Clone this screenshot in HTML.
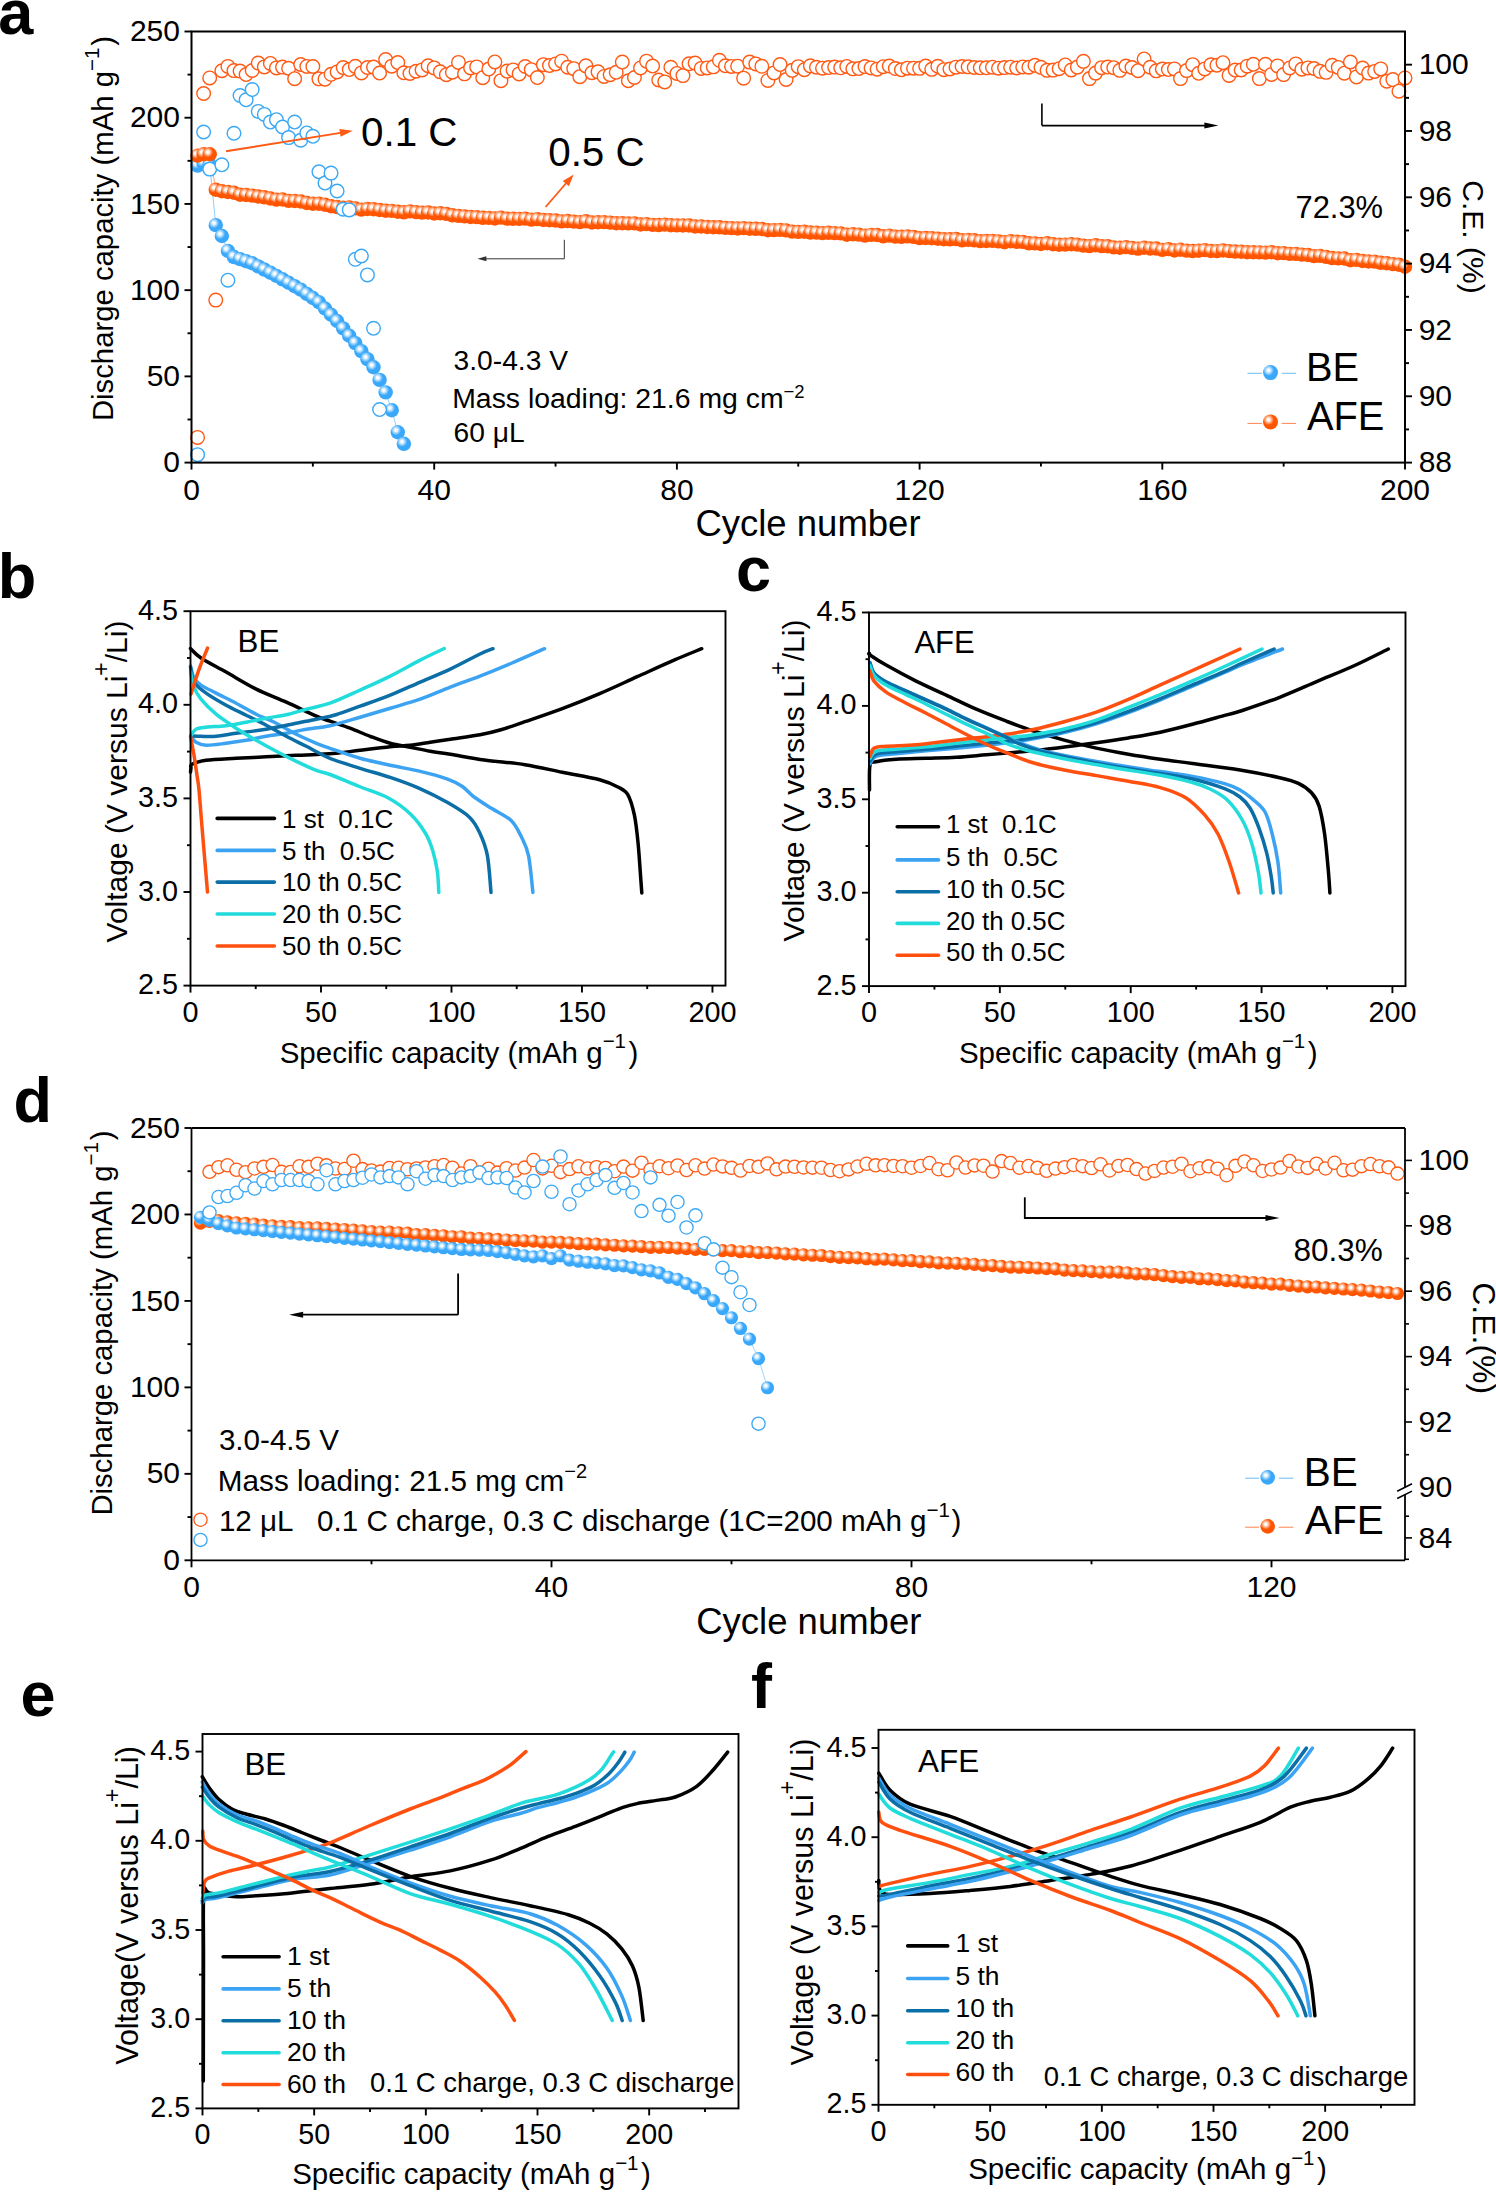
<!DOCTYPE html>
<html><head><meta charset="utf-8"><title>figure</title>
<style>html,body{margin:0;padding:0;background:#fff;}svg{display:block;}</style>
</head><body>
<svg width="1496" height="2192" viewBox="0 0 1496 2192" font-family='"Liberation Sans", sans-serif' style="font-variant-ligatures:none">
<defs>
<radialGradient id="gB" cx="0.37" cy="0.35" r="0.36">
<stop offset="0" stop-color="#ffffff"/><stop offset="0.25" stop-color="#f4faff"/><stop offset="1" stop-color="#3aa8fa"/></radialGradient>
<radialGradient id="gO" cx="0.37" cy="0.35" r="0.36">
<stop offset="0" stop-color="#ffffff"/><stop offset="0.25" stop-color="#fff6f0"/><stop offset="1" stop-color="#ff5500"/></radialGradient>
</defs>
<rect x="0" y="0" width="1496" height="2192" fill="#fff"/>
<text x="-1.8" y="34.2" font-size="63" text-anchor="start" font-weight="bold" fill="#000">a</text>
<polyline points="197.57,165.66 203.63,163.42 209.7,164.28 215.77,225.15 221.84,236.01 227.91,250.84 233.97,257.05 240.04,259.12 246.11,261.19 252.18,263.26 258.24,266.41 264.31,269.55 270.38,272.7 276.44,275.85 282.51,279.3 288.58,282.75 294.65,286.19 300.72,289.64 306.78,293.84 312.85,298.03 318.92,302.23 324.99,308.5 331.05,314.76 337.12,321.03 343.19,328.38 349.25,335.74 355.32,343.1 361.39,351.15 367.46,359.19 373.52,367.24 379.59,379.83 385.66,392.42 391.73,410.18 397.79,432.25 403.86,443.8" fill="none" stroke="#3aa8f5" stroke-width="0.8" opacity="0.7"/>
<polyline points="197.57,155.66 203.63,154.28 209.7,154.28 215.77,189.68 221.84,191.18 227.91,191.95 233.97,192.75 240.04,194.74 246.11,194.95 252.18,195.61 258.24,196.53 264.31,197.32 270.38,198.43 276.44,199.59 282.51,199.48 288.58,200.85 294.65,200.95 300.72,201.45 306.78,202.99 312.85,203.72 318.92,203.71 324.99,204.76 331.05,206.26 337.12,207.06 343.19,207.77 349.25,207.47 355.32,208.35 361.39,209.61 367.46,209.03 373.52,209.18 379.59,209.98 385.66,210.76 391.73,210.84 397.79,211.78 403.86,212.3 409.93,211.33 416,212.13 422.06,212.66 428.13,212.46 434.2,213.5 440.27,213.26 446.34,213.89 452.4,215.32 458.47,215.84 464.54,216.35 470.61,217 476.67,217.1 482.74,217.8 488.81,217.83 494.88,218.48 500.94,217.66 507.01,218.67 513.08,218.78 519.14,218.86 525.21,218.67 531.28,219.58 537.35,219.15 543.41,219.97 549.48,220.18 555.55,220.45 561.62,221.39 567.68,221.06 573.75,221.67 579.82,222.17 585.89,221.32 591.95,222.44 598.02,222.27 604.09,222.17 610.16,222.66 616.23,223.23 622.29,223.21 628.36,223.41 634.43,223.35 640.5,224.53 646.56,224.16 652.63,224.84 658.7,225.05 664.76,224.62 670.83,225.23 676.9,225.41 682.97,225.43 689.04,225.52 695.1,226.46 701.17,226.52 707.24,226.96 713.3,227.25 719.37,227.29 725.44,227.92 731.51,228.1 737.58,228.47 743.64,228.13 749.71,228.76 755.78,228.81 761.85,229.01 767.91,230.25 773.98,230.13 780.05,229.89 786.12,230.33 792.18,231.59 798.25,231.91 804.32,231.76 810.38,232.57 816.45,232.63 822.52,233.15 828.59,232.79 834.65,233.09 840.72,233.4 846.79,234.71 852.86,234.22 858.92,234.58 864.99,235.58 871.06,234.84 877.13,235.01 883.2,236.32 889.26,235.6 895.33,236.65 901.4,236.81 907.47,236.4 913.53,236.9 919.6,238.11 925.67,238.03 931.74,238.19 937.8,238.72 943.87,239.2 949.94,239.32 956,239.05 962.07,240.3 968.14,239.85 974.21,240.29 980.27,241.16 986.34,241.01 992.41,240.89 998.48,241.33 1004.54,242.23 1010.61,241.25 1016.68,241.8 1022.75,241.84 1028.82,243.32 1034.88,243.38 1040.95,243.98 1047.02,243.24 1053.09,244.23 1059.15,244.71 1065.22,244.59 1071.29,244.2 1077.36,244.61 1083.42,245.67 1089.49,246.1 1095.56,245.32 1101.62,246.09 1107.69,246.22 1113.76,247.37 1119.83,247.73 1125.89,247.17 1131.96,247.84 1138.03,248.64 1144.1,247.76 1150.16,248.49 1156.23,248.57 1162.3,249.87 1168.37,249.11 1174.43,250.51 1180.5,249.72 1186.57,250.6 1192.64,251.07 1198.7,250.7 1204.77,250.12 1210.84,250.96 1216.91,251.08 1222.97,250.46 1229.04,251.12 1235.11,251.57 1241.18,251.76 1247.24,252.18 1253.31,252.24 1259.38,252.35 1265.45,252.62 1271.52,252.26 1277.58,253.18 1283.65,253.15 1289.72,253.86 1295.79,253.89 1301.85,254.61 1307.92,255.03 1313.99,256.09 1320.06,255.84 1326.12,256.83 1332.19,258.07 1338.26,258.42 1344.33,258.52 1350.39,260.26 1356.46,259.86 1362.53,260.99 1368.6,261.49 1374.66,261.62 1380.73,262.82 1386.8,263.25 1392.87,264.09 1398.93,264.78 1405,266.75" fill="none" stroke="#ff5a14" stroke-width="0.8" opacity="0.7"/>
<circle cx="197.57" cy="165.66" r="7.2" fill="url(#gB)"/>
<circle cx="203.63" cy="163.42" r="7.2" fill="url(#gB)"/>
<circle cx="209.7" cy="164.28" r="7.2" fill="url(#gB)"/>
<circle cx="215.77" cy="225.15" r="7.2" fill="url(#gB)"/>
<circle cx="221.84" cy="236.01" r="7.2" fill="url(#gB)"/>
<circle cx="227.91" cy="250.84" r="7.2" fill="url(#gB)"/>
<circle cx="233.97" cy="257.05" r="7.2" fill="url(#gB)"/>
<circle cx="240.04" cy="259.12" r="7.2" fill="url(#gB)"/>
<circle cx="246.11" cy="261.19" r="7.2" fill="url(#gB)"/>
<circle cx="252.18" cy="263.26" r="7.2" fill="url(#gB)"/>
<circle cx="258.24" cy="266.41" r="7.2" fill="url(#gB)"/>
<circle cx="264.31" cy="269.55" r="7.2" fill="url(#gB)"/>
<circle cx="270.38" cy="272.7" r="7.2" fill="url(#gB)"/>
<circle cx="276.44" cy="275.85" r="7.2" fill="url(#gB)"/>
<circle cx="282.51" cy="279.3" r="7.2" fill="url(#gB)"/>
<circle cx="288.58" cy="282.75" r="7.2" fill="url(#gB)"/>
<circle cx="294.65" cy="286.19" r="7.2" fill="url(#gB)"/>
<circle cx="300.72" cy="289.64" r="7.2" fill="url(#gB)"/>
<circle cx="306.78" cy="293.84" r="7.2" fill="url(#gB)"/>
<circle cx="312.85" cy="298.03" r="7.2" fill="url(#gB)"/>
<circle cx="318.92" cy="302.23" r="7.2" fill="url(#gB)"/>
<circle cx="324.99" cy="308.5" r="7.2" fill="url(#gB)"/>
<circle cx="331.05" cy="314.76" r="7.2" fill="url(#gB)"/>
<circle cx="337.12" cy="321.03" r="7.2" fill="url(#gB)"/>
<circle cx="343.19" cy="328.38" r="7.2" fill="url(#gB)"/>
<circle cx="349.25" cy="335.74" r="7.2" fill="url(#gB)"/>
<circle cx="355.32" cy="343.1" r="7.2" fill="url(#gB)"/>
<circle cx="361.39" cy="351.15" r="7.2" fill="url(#gB)"/>
<circle cx="367.46" cy="359.19" r="7.2" fill="url(#gB)"/>
<circle cx="373.52" cy="367.24" r="7.2" fill="url(#gB)"/>
<circle cx="379.59" cy="379.83" r="7.2" fill="url(#gB)"/>
<circle cx="385.66" cy="392.42" r="7.2" fill="url(#gB)"/>
<circle cx="391.73" cy="410.18" r="7.2" fill="url(#gB)"/>
<circle cx="397.79" cy="432.25" r="7.2" fill="url(#gB)"/>
<circle cx="403.86" cy="443.8" r="7.2" fill="url(#gB)"/>
<circle cx="197.57" cy="155.66" r="7.2" fill="url(#gO)"/>
<circle cx="203.63" cy="154.28" r="7.2" fill="url(#gO)"/>
<circle cx="209.7" cy="154.28" r="7.2" fill="url(#gO)"/>
<circle cx="215.77" cy="189.68" r="7.2" fill="url(#gO)"/>
<circle cx="221.84" cy="191.18" r="7.2" fill="url(#gO)"/>
<circle cx="227.91" cy="191.95" r="7.2" fill="url(#gO)"/>
<circle cx="233.97" cy="192.75" r="7.2" fill="url(#gO)"/>
<circle cx="240.04" cy="194.74" r="7.2" fill="url(#gO)"/>
<circle cx="246.11" cy="194.95" r="7.2" fill="url(#gO)"/>
<circle cx="252.18" cy="195.61" r="7.2" fill="url(#gO)"/>
<circle cx="258.24" cy="196.53" r="7.2" fill="url(#gO)"/>
<circle cx="264.31" cy="197.32" r="7.2" fill="url(#gO)"/>
<circle cx="270.38" cy="198.43" r="7.2" fill="url(#gO)"/>
<circle cx="276.44" cy="199.59" r="7.2" fill="url(#gO)"/>
<circle cx="282.51" cy="199.48" r="7.2" fill="url(#gO)"/>
<circle cx="288.58" cy="200.85" r="7.2" fill="url(#gO)"/>
<circle cx="294.65" cy="200.95" r="7.2" fill="url(#gO)"/>
<circle cx="300.72" cy="201.45" r="7.2" fill="url(#gO)"/>
<circle cx="306.78" cy="202.99" r="7.2" fill="url(#gO)"/>
<circle cx="312.85" cy="203.72" r="7.2" fill="url(#gO)"/>
<circle cx="318.92" cy="203.71" r="7.2" fill="url(#gO)"/>
<circle cx="324.99" cy="204.76" r="7.2" fill="url(#gO)"/>
<circle cx="331.05" cy="206.26" r="7.2" fill="url(#gO)"/>
<circle cx="337.12" cy="207.06" r="7.2" fill="url(#gO)"/>
<circle cx="343.19" cy="207.77" r="7.2" fill="url(#gO)"/>
<circle cx="349.25" cy="207.47" r="7.2" fill="url(#gO)"/>
<circle cx="355.32" cy="208.35" r="7.2" fill="url(#gO)"/>
<circle cx="361.39" cy="209.61" r="7.2" fill="url(#gO)"/>
<circle cx="367.46" cy="209.03" r="7.2" fill="url(#gO)"/>
<circle cx="373.52" cy="209.18" r="7.2" fill="url(#gO)"/>
<circle cx="379.59" cy="209.98" r="7.2" fill="url(#gO)"/>
<circle cx="385.66" cy="210.76" r="7.2" fill="url(#gO)"/>
<circle cx="391.73" cy="210.84" r="7.2" fill="url(#gO)"/>
<circle cx="397.79" cy="211.78" r="7.2" fill="url(#gO)"/>
<circle cx="403.86" cy="212.3" r="7.2" fill="url(#gO)"/>
<circle cx="409.93" cy="211.33" r="7.2" fill="url(#gO)"/>
<circle cx="416" cy="212.13" r="7.2" fill="url(#gO)"/>
<circle cx="422.06" cy="212.66" r="7.2" fill="url(#gO)"/>
<circle cx="428.13" cy="212.46" r="7.2" fill="url(#gO)"/>
<circle cx="434.2" cy="213.5" r="7.2" fill="url(#gO)"/>
<circle cx="440.27" cy="213.26" r="7.2" fill="url(#gO)"/>
<circle cx="446.34" cy="213.89" r="7.2" fill="url(#gO)"/>
<circle cx="452.4" cy="215.32" r="7.2" fill="url(#gO)"/>
<circle cx="458.47" cy="215.84" r="7.2" fill="url(#gO)"/>
<circle cx="464.54" cy="216.35" r="7.2" fill="url(#gO)"/>
<circle cx="470.61" cy="217" r="7.2" fill="url(#gO)"/>
<circle cx="476.67" cy="217.1" r="7.2" fill="url(#gO)"/>
<circle cx="482.74" cy="217.8" r="7.2" fill="url(#gO)"/>
<circle cx="488.81" cy="217.83" r="7.2" fill="url(#gO)"/>
<circle cx="494.88" cy="218.48" r="7.2" fill="url(#gO)"/>
<circle cx="500.94" cy="217.66" r="7.2" fill="url(#gO)"/>
<circle cx="507.01" cy="218.67" r="7.2" fill="url(#gO)"/>
<circle cx="513.08" cy="218.78" r="7.2" fill="url(#gO)"/>
<circle cx="519.14" cy="218.86" r="7.2" fill="url(#gO)"/>
<circle cx="525.21" cy="218.67" r="7.2" fill="url(#gO)"/>
<circle cx="531.28" cy="219.58" r="7.2" fill="url(#gO)"/>
<circle cx="537.35" cy="219.15" r="7.2" fill="url(#gO)"/>
<circle cx="543.41" cy="219.97" r="7.2" fill="url(#gO)"/>
<circle cx="549.48" cy="220.18" r="7.2" fill="url(#gO)"/>
<circle cx="555.55" cy="220.45" r="7.2" fill="url(#gO)"/>
<circle cx="561.62" cy="221.39" r="7.2" fill="url(#gO)"/>
<circle cx="567.68" cy="221.06" r="7.2" fill="url(#gO)"/>
<circle cx="573.75" cy="221.67" r="7.2" fill="url(#gO)"/>
<circle cx="579.82" cy="222.17" r="7.2" fill="url(#gO)"/>
<circle cx="585.89" cy="221.32" r="7.2" fill="url(#gO)"/>
<circle cx="591.95" cy="222.44" r="7.2" fill="url(#gO)"/>
<circle cx="598.02" cy="222.27" r="7.2" fill="url(#gO)"/>
<circle cx="604.09" cy="222.17" r="7.2" fill="url(#gO)"/>
<circle cx="610.16" cy="222.66" r="7.2" fill="url(#gO)"/>
<circle cx="616.23" cy="223.23" r="7.2" fill="url(#gO)"/>
<circle cx="622.29" cy="223.21" r="7.2" fill="url(#gO)"/>
<circle cx="628.36" cy="223.41" r="7.2" fill="url(#gO)"/>
<circle cx="634.43" cy="223.35" r="7.2" fill="url(#gO)"/>
<circle cx="640.5" cy="224.53" r="7.2" fill="url(#gO)"/>
<circle cx="646.56" cy="224.16" r="7.2" fill="url(#gO)"/>
<circle cx="652.63" cy="224.84" r="7.2" fill="url(#gO)"/>
<circle cx="658.7" cy="225.05" r="7.2" fill="url(#gO)"/>
<circle cx="664.76" cy="224.62" r="7.2" fill="url(#gO)"/>
<circle cx="670.83" cy="225.23" r="7.2" fill="url(#gO)"/>
<circle cx="676.9" cy="225.41" r="7.2" fill="url(#gO)"/>
<circle cx="682.97" cy="225.43" r="7.2" fill="url(#gO)"/>
<circle cx="689.04" cy="225.52" r="7.2" fill="url(#gO)"/>
<circle cx="695.1" cy="226.46" r="7.2" fill="url(#gO)"/>
<circle cx="701.17" cy="226.52" r="7.2" fill="url(#gO)"/>
<circle cx="707.24" cy="226.96" r="7.2" fill="url(#gO)"/>
<circle cx="713.3" cy="227.25" r="7.2" fill="url(#gO)"/>
<circle cx="719.37" cy="227.29" r="7.2" fill="url(#gO)"/>
<circle cx="725.44" cy="227.92" r="7.2" fill="url(#gO)"/>
<circle cx="731.51" cy="228.1" r="7.2" fill="url(#gO)"/>
<circle cx="737.58" cy="228.47" r="7.2" fill="url(#gO)"/>
<circle cx="743.64" cy="228.13" r="7.2" fill="url(#gO)"/>
<circle cx="749.71" cy="228.76" r="7.2" fill="url(#gO)"/>
<circle cx="755.78" cy="228.81" r="7.2" fill="url(#gO)"/>
<circle cx="761.85" cy="229.01" r="7.2" fill="url(#gO)"/>
<circle cx="767.91" cy="230.25" r="7.2" fill="url(#gO)"/>
<circle cx="773.98" cy="230.13" r="7.2" fill="url(#gO)"/>
<circle cx="780.05" cy="229.89" r="7.2" fill="url(#gO)"/>
<circle cx="786.12" cy="230.33" r="7.2" fill="url(#gO)"/>
<circle cx="792.18" cy="231.59" r="7.2" fill="url(#gO)"/>
<circle cx="798.25" cy="231.91" r="7.2" fill="url(#gO)"/>
<circle cx="804.32" cy="231.76" r="7.2" fill="url(#gO)"/>
<circle cx="810.38" cy="232.57" r="7.2" fill="url(#gO)"/>
<circle cx="816.45" cy="232.63" r="7.2" fill="url(#gO)"/>
<circle cx="822.52" cy="233.15" r="7.2" fill="url(#gO)"/>
<circle cx="828.59" cy="232.79" r="7.2" fill="url(#gO)"/>
<circle cx="834.65" cy="233.09" r="7.2" fill="url(#gO)"/>
<circle cx="840.72" cy="233.4" r="7.2" fill="url(#gO)"/>
<circle cx="846.79" cy="234.71" r="7.2" fill="url(#gO)"/>
<circle cx="852.86" cy="234.22" r="7.2" fill="url(#gO)"/>
<circle cx="858.92" cy="234.58" r="7.2" fill="url(#gO)"/>
<circle cx="864.99" cy="235.58" r="7.2" fill="url(#gO)"/>
<circle cx="871.06" cy="234.84" r="7.2" fill="url(#gO)"/>
<circle cx="877.13" cy="235.01" r="7.2" fill="url(#gO)"/>
<circle cx="883.2" cy="236.32" r="7.2" fill="url(#gO)"/>
<circle cx="889.26" cy="235.6" r="7.2" fill="url(#gO)"/>
<circle cx="895.33" cy="236.65" r="7.2" fill="url(#gO)"/>
<circle cx="901.4" cy="236.81" r="7.2" fill="url(#gO)"/>
<circle cx="907.47" cy="236.4" r="7.2" fill="url(#gO)"/>
<circle cx="913.53" cy="236.9" r="7.2" fill="url(#gO)"/>
<circle cx="919.6" cy="238.11" r="7.2" fill="url(#gO)"/>
<circle cx="925.67" cy="238.03" r="7.2" fill="url(#gO)"/>
<circle cx="931.74" cy="238.19" r="7.2" fill="url(#gO)"/>
<circle cx="937.8" cy="238.72" r="7.2" fill="url(#gO)"/>
<circle cx="943.87" cy="239.2" r="7.2" fill="url(#gO)"/>
<circle cx="949.94" cy="239.32" r="7.2" fill="url(#gO)"/>
<circle cx="956" cy="239.05" r="7.2" fill="url(#gO)"/>
<circle cx="962.07" cy="240.3" r="7.2" fill="url(#gO)"/>
<circle cx="968.14" cy="239.85" r="7.2" fill="url(#gO)"/>
<circle cx="974.21" cy="240.29" r="7.2" fill="url(#gO)"/>
<circle cx="980.27" cy="241.16" r="7.2" fill="url(#gO)"/>
<circle cx="986.34" cy="241.01" r="7.2" fill="url(#gO)"/>
<circle cx="992.41" cy="240.89" r="7.2" fill="url(#gO)"/>
<circle cx="998.48" cy="241.33" r="7.2" fill="url(#gO)"/>
<circle cx="1004.54" cy="242.23" r="7.2" fill="url(#gO)"/>
<circle cx="1010.61" cy="241.25" r="7.2" fill="url(#gO)"/>
<circle cx="1016.68" cy="241.8" r="7.2" fill="url(#gO)"/>
<circle cx="1022.75" cy="241.84" r="7.2" fill="url(#gO)"/>
<circle cx="1028.82" cy="243.32" r="7.2" fill="url(#gO)"/>
<circle cx="1034.88" cy="243.38" r="7.2" fill="url(#gO)"/>
<circle cx="1040.95" cy="243.98" r="7.2" fill="url(#gO)"/>
<circle cx="1047.02" cy="243.24" r="7.2" fill="url(#gO)"/>
<circle cx="1053.09" cy="244.23" r="7.2" fill="url(#gO)"/>
<circle cx="1059.15" cy="244.71" r="7.2" fill="url(#gO)"/>
<circle cx="1065.22" cy="244.59" r="7.2" fill="url(#gO)"/>
<circle cx="1071.29" cy="244.2" r="7.2" fill="url(#gO)"/>
<circle cx="1077.36" cy="244.61" r="7.2" fill="url(#gO)"/>
<circle cx="1083.42" cy="245.67" r="7.2" fill="url(#gO)"/>
<circle cx="1089.49" cy="246.1" r="7.2" fill="url(#gO)"/>
<circle cx="1095.56" cy="245.32" r="7.2" fill="url(#gO)"/>
<circle cx="1101.62" cy="246.09" r="7.2" fill="url(#gO)"/>
<circle cx="1107.69" cy="246.22" r="7.2" fill="url(#gO)"/>
<circle cx="1113.76" cy="247.37" r="7.2" fill="url(#gO)"/>
<circle cx="1119.83" cy="247.73" r="7.2" fill="url(#gO)"/>
<circle cx="1125.89" cy="247.17" r="7.2" fill="url(#gO)"/>
<circle cx="1131.96" cy="247.84" r="7.2" fill="url(#gO)"/>
<circle cx="1138.03" cy="248.64" r="7.2" fill="url(#gO)"/>
<circle cx="1144.1" cy="247.76" r="7.2" fill="url(#gO)"/>
<circle cx="1150.16" cy="248.49" r="7.2" fill="url(#gO)"/>
<circle cx="1156.23" cy="248.57" r="7.2" fill="url(#gO)"/>
<circle cx="1162.3" cy="249.87" r="7.2" fill="url(#gO)"/>
<circle cx="1168.37" cy="249.11" r="7.2" fill="url(#gO)"/>
<circle cx="1174.43" cy="250.51" r="7.2" fill="url(#gO)"/>
<circle cx="1180.5" cy="249.72" r="7.2" fill="url(#gO)"/>
<circle cx="1186.57" cy="250.6" r="7.2" fill="url(#gO)"/>
<circle cx="1192.64" cy="251.07" r="7.2" fill="url(#gO)"/>
<circle cx="1198.7" cy="250.7" r="7.2" fill="url(#gO)"/>
<circle cx="1204.77" cy="250.12" r="7.2" fill="url(#gO)"/>
<circle cx="1210.84" cy="250.96" r="7.2" fill="url(#gO)"/>
<circle cx="1216.91" cy="251.08" r="7.2" fill="url(#gO)"/>
<circle cx="1222.97" cy="250.46" r="7.2" fill="url(#gO)"/>
<circle cx="1229.04" cy="251.12" r="7.2" fill="url(#gO)"/>
<circle cx="1235.11" cy="251.57" r="7.2" fill="url(#gO)"/>
<circle cx="1241.18" cy="251.76" r="7.2" fill="url(#gO)"/>
<circle cx="1247.24" cy="252.18" r="7.2" fill="url(#gO)"/>
<circle cx="1253.31" cy="252.24" r="7.2" fill="url(#gO)"/>
<circle cx="1259.38" cy="252.35" r="7.2" fill="url(#gO)"/>
<circle cx="1265.45" cy="252.62" r="7.2" fill="url(#gO)"/>
<circle cx="1271.52" cy="252.26" r="7.2" fill="url(#gO)"/>
<circle cx="1277.58" cy="253.18" r="7.2" fill="url(#gO)"/>
<circle cx="1283.65" cy="253.15" r="7.2" fill="url(#gO)"/>
<circle cx="1289.72" cy="253.86" r="7.2" fill="url(#gO)"/>
<circle cx="1295.79" cy="253.89" r="7.2" fill="url(#gO)"/>
<circle cx="1301.85" cy="254.61" r="7.2" fill="url(#gO)"/>
<circle cx="1307.92" cy="255.03" r="7.2" fill="url(#gO)"/>
<circle cx="1313.99" cy="256.09" r="7.2" fill="url(#gO)"/>
<circle cx="1320.06" cy="255.84" r="7.2" fill="url(#gO)"/>
<circle cx="1326.12" cy="256.83" r="7.2" fill="url(#gO)"/>
<circle cx="1332.19" cy="258.07" r="7.2" fill="url(#gO)"/>
<circle cx="1338.26" cy="258.42" r="7.2" fill="url(#gO)"/>
<circle cx="1344.33" cy="258.52" r="7.2" fill="url(#gO)"/>
<circle cx="1350.39" cy="260.26" r="7.2" fill="url(#gO)"/>
<circle cx="1356.46" cy="259.86" r="7.2" fill="url(#gO)"/>
<circle cx="1362.53" cy="260.99" r="7.2" fill="url(#gO)"/>
<circle cx="1368.6" cy="261.49" r="7.2" fill="url(#gO)"/>
<circle cx="1374.66" cy="261.62" r="7.2" fill="url(#gO)"/>
<circle cx="1380.73" cy="262.82" r="7.2" fill="url(#gO)"/>
<circle cx="1386.8" cy="263.25" r="7.2" fill="url(#gO)"/>
<circle cx="1392.87" cy="264.09" r="7.2" fill="url(#gO)"/>
<circle cx="1398.93" cy="264.78" r="7.2" fill="url(#gO)"/>
<circle cx="1405" cy="266.75" r="7.2" fill="url(#gO)"/>
<circle cx="197.57" cy="437.4" r="6.8" fill="#fff" stroke="#ff5a14" stroke-width="1.4"/>
<circle cx="203.63" cy="93.51" r="6.8" fill="#fff" stroke="#ff5a14" stroke-width="1.4"/>
<circle cx="209.7" cy="77.93" r="6.8" fill="#fff" stroke="#ff5a14" stroke-width="1.4"/>
<circle cx="215.77" cy="300.11" r="6.8" fill="#fff" stroke="#ff5a14" stroke-width="1.4"/>
<circle cx="221.84" cy="70.75" r="6.8" fill="#fff" stroke="#ff5a14" stroke-width="1.4"/>
<circle cx="227.91" cy="66.42" r="6.8" fill="#fff" stroke="#ff5a14" stroke-width="1.4"/>
<circle cx="233.97" cy="70.58" r="6.8" fill="#fff" stroke="#ff5a14" stroke-width="1.4"/>
<circle cx="240.04" cy="71.08" r="6.8" fill="#fff" stroke="#ff5a14" stroke-width="1.4"/>
<circle cx="246.11" cy="74.55" r="6.8" fill="#fff" stroke="#ff5a14" stroke-width="1.4"/>
<circle cx="252.18" cy="70.51" r="6.8" fill="#fff" stroke="#ff5a14" stroke-width="1.4"/>
<circle cx="258.24" cy="63.04" r="6.8" fill="#fff" stroke="#ff5a14" stroke-width="1.4"/>
<circle cx="264.31" cy="66.91" r="6.8" fill="#fff" stroke="#ff5a14" stroke-width="1.4"/>
<circle cx="270.38" cy="63.46" r="6.8" fill="#fff" stroke="#ff5a14" stroke-width="1.4"/>
<circle cx="276.44" cy="67.9" r="6.8" fill="#fff" stroke="#ff5a14" stroke-width="1.4"/>
<circle cx="282.51" cy="67.08" r="6.8" fill="#fff" stroke="#ff5a14" stroke-width="1.4"/>
<circle cx="288.58" cy="68.26" r="6.8" fill="#fff" stroke="#ff5a14" stroke-width="1.4"/>
<circle cx="294.65" cy="78.7" r="6.8" fill="#fff" stroke="#ff5a14" stroke-width="1.4"/>
<circle cx="300.72" cy="64.48" r="6.8" fill="#fff" stroke="#ff5a14" stroke-width="1.4"/>
<circle cx="306.78" cy="66.45" r="6.8" fill="#fff" stroke="#ff5a14" stroke-width="1.4"/>
<circle cx="312.85" cy="66.49" r="6.8" fill="#fff" stroke="#ff5a14" stroke-width="1.4"/>
<circle cx="318.92" cy="78.84" r="6.8" fill="#fff" stroke="#ff5a14" stroke-width="1.4"/>
<circle cx="324.99" cy="79.14" r="6.8" fill="#fff" stroke="#ff5a14" stroke-width="1.4"/>
<circle cx="331.05" cy="74.32" r="6.8" fill="#fff" stroke="#ff5a14" stroke-width="1.4"/>
<circle cx="337.12" cy="71.94" r="6.8" fill="#fff" stroke="#ff5a14" stroke-width="1.4"/>
<circle cx="343.19" cy="67.58" r="6.8" fill="#fff" stroke="#ff5a14" stroke-width="1.4"/>
<circle cx="349.25" cy="69.56" r="6.8" fill="#fff" stroke="#ff5a14" stroke-width="1.4"/>
<circle cx="355.32" cy="66.37" r="6.8" fill="#fff" stroke="#ff5a14" stroke-width="1.4"/>
<circle cx="361.39" cy="72.92" r="6.8" fill="#fff" stroke="#ff5a14" stroke-width="1.4"/>
<circle cx="367.46" cy="67.56" r="6.8" fill="#fff" stroke="#ff5a14" stroke-width="1.4"/>
<circle cx="373.52" cy="67.08" r="6.8" fill="#fff" stroke="#ff5a14" stroke-width="1.4"/>
<circle cx="379.59" cy="73.03" r="6.8" fill="#fff" stroke="#ff5a14" stroke-width="1.4"/>
<circle cx="385.66" cy="59.62" r="6.8" fill="#fff" stroke="#ff5a14" stroke-width="1.4"/>
<circle cx="391.73" cy="66.17" r="6.8" fill="#fff" stroke="#ff5a14" stroke-width="1.4"/>
<circle cx="397.79" cy="62.56" r="6.8" fill="#fff" stroke="#ff5a14" stroke-width="1.4"/>
<circle cx="403.86" cy="72.8" r="6.8" fill="#fff" stroke="#ff5a14" stroke-width="1.4"/>
<circle cx="409.93" cy="73.47" r="6.8" fill="#fff" stroke="#ff5a14" stroke-width="1.4"/>
<circle cx="416" cy="71.24" r="6.8" fill="#fff" stroke="#ff5a14" stroke-width="1.4"/>
<circle cx="422.06" cy="69.9" r="6.8" fill="#fff" stroke="#ff5a14" stroke-width="1.4"/>
<circle cx="428.13" cy="65.74" r="6.8" fill="#fff" stroke="#ff5a14" stroke-width="1.4"/>
<circle cx="434.2" cy="67.9" r="6.8" fill="#fff" stroke="#ff5a14" stroke-width="1.4"/>
<circle cx="440.27" cy="71.83" r="6.8" fill="#fff" stroke="#ff5a14" stroke-width="1.4"/>
<circle cx="446.34" cy="74.7" r="6.8" fill="#fff" stroke="#ff5a14" stroke-width="1.4"/>
<circle cx="452.4" cy="72.24" r="6.8" fill="#fff" stroke="#ff5a14" stroke-width="1.4"/>
<circle cx="458.47" cy="62.42" r="6.8" fill="#fff" stroke="#ff5a14" stroke-width="1.4"/>
<circle cx="464.54" cy="73.86" r="6.8" fill="#fff" stroke="#ff5a14" stroke-width="1.4"/>
<circle cx="470.61" cy="67.92" r="6.8" fill="#fff" stroke="#ff5a14" stroke-width="1.4"/>
<circle cx="476.67" cy="66.9" r="6.8" fill="#fff" stroke="#ff5a14" stroke-width="1.4"/>
<circle cx="482.74" cy="77.7" r="6.8" fill="#fff" stroke="#ff5a14" stroke-width="1.4"/>
<circle cx="488.81" cy="69.03" r="6.8" fill="#fff" stroke="#ff5a14" stroke-width="1.4"/>
<circle cx="494.88" cy="61.94" r="6.8" fill="#fff" stroke="#ff5a14" stroke-width="1.4"/>
<circle cx="500.94" cy="80.66" r="6.8" fill="#fff" stroke="#ff5a14" stroke-width="1.4"/>
<circle cx="507.01" cy="71.12" r="6.8" fill="#fff" stroke="#ff5a14" stroke-width="1.4"/>
<circle cx="513.08" cy="69.9" r="6.8" fill="#fff" stroke="#ff5a14" stroke-width="1.4"/>
<circle cx="519.14" cy="73.91" r="6.8" fill="#fff" stroke="#ff5a14" stroke-width="1.4"/>
<circle cx="525.21" cy="66.5" r="6.8" fill="#fff" stroke="#ff5a14" stroke-width="1.4"/>
<circle cx="531.28" cy="69.66" r="6.8" fill="#fff" stroke="#ff5a14" stroke-width="1.4"/>
<circle cx="537.35" cy="77.56" r="6.8" fill="#fff" stroke="#ff5a14" stroke-width="1.4"/>
<circle cx="543.41" cy="64.64" r="6.8" fill="#fff" stroke="#ff5a14" stroke-width="1.4"/>
<circle cx="549.48" cy="65.53" r="6.8" fill="#fff" stroke="#ff5a14" stroke-width="1.4"/>
<circle cx="555.55" cy="63.97" r="6.8" fill="#fff" stroke="#ff5a14" stroke-width="1.4"/>
<circle cx="561.62" cy="61.18" r="6.8" fill="#fff" stroke="#ff5a14" stroke-width="1.4"/>
<circle cx="567.68" cy="67.26" r="6.8" fill="#fff" stroke="#ff5a14" stroke-width="1.4"/>
<circle cx="573.75" cy="68.63" r="6.8" fill="#fff" stroke="#ff5a14" stroke-width="1.4"/>
<circle cx="579.82" cy="76.63" r="6.8" fill="#fff" stroke="#ff5a14" stroke-width="1.4"/>
<circle cx="585.89" cy="65.83" r="6.8" fill="#fff" stroke="#ff5a14" stroke-width="1.4"/>
<circle cx="591.95" cy="72.75" r="6.8" fill="#fff" stroke="#ff5a14" stroke-width="1.4"/>
<circle cx="598.02" cy="71.86" r="6.8" fill="#fff" stroke="#ff5a14" stroke-width="1.4"/>
<circle cx="604.09" cy="76.43" r="6.8" fill="#fff" stroke="#ff5a14" stroke-width="1.4"/>
<circle cx="610.16" cy="74.76" r="6.8" fill="#fff" stroke="#ff5a14" stroke-width="1.4"/>
<circle cx="616.23" cy="72.3" r="6.8" fill="#fff" stroke="#ff5a14" stroke-width="1.4"/>
<circle cx="622.29" cy="62.04" r="6.8" fill="#fff" stroke="#ff5a14" stroke-width="1.4"/>
<circle cx="628.36" cy="80.76" r="6.8" fill="#fff" stroke="#ff5a14" stroke-width="1.4"/>
<circle cx="634.43" cy="77.52" r="6.8" fill="#fff" stroke="#ff5a14" stroke-width="1.4"/>
<circle cx="640.5" cy="67.95" r="6.8" fill="#fff" stroke="#ff5a14" stroke-width="1.4"/>
<circle cx="646.56" cy="61.17" r="6.8" fill="#fff" stroke="#ff5a14" stroke-width="1.4"/>
<circle cx="652.63" cy="66.04" r="6.8" fill="#fff" stroke="#ff5a14" stroke-width="1.4"/>
<circle cx="658.7" cy="80.02" r="6.8" fill="#fff" stroke="#ff5a14" stroke-width="1.4"/>
<circle cx="664.76" cy="81.91" r="6.8" fill="#fff" stroke="#ff5a14" stroke-width="1.4"/>
<circle cx="670.83" cy="67.29" r="6.8" fill="#fff" stroke="#ff5a14" stroke-width="1.4"/>
<circle cx="676.9" cy="73.45" r="6.8" fill="#fff" stroke="#ff5a14" stroke-width="1.4"/>
<circle cx="682.97" cy="75.62" r="6.8" fill="#fff" stroke="#ff5a14" stroke-width="1.4"/>
<circle cx="689.04" cy="63.79" r="6.8" fill="#fff" stroke="#ff5a14" stroke-width="1.4"/>
<circle cx="695.1" cy="63.09" r="6.8" fill="#fff" stroke="#ff5a14" stroke-width="1.4"/>
<circle cx="701.17" cy="68.42" r="6.8" fill="#fff" stroke="#ff5a14" stroke-width="1.4"/>
<circle cx="707.24" cy="67.92" r="6.8" fill="#fff" stroke="#ff5a14" stroke-width="1.4"/>
<circle cx="713.3" cy="66.86" r="6.8" fill="#fff" stroke="#ff5a14" stroke-width="1.4"/>
<circle cx="719.37" cy="60.32" r="6.8" fill="#fff" stroke="#ff5a14" stroke-width="1.4"/>
<circle cx="725.44" cy="65.81" r="6.8" fill="#fff" stroke="#ff5a14" stroke-width="1.4"/>
<circle cx="731.51" cy="66.38" r="6.8" fill="#fff" stroke="#ff5a14" stroke-width="1.4"/>
<circle cx="737.58" cy="66.22" r="6.8" fill="#fff" stroke="#ff5a14" stroke-width="1.4"/>
<circle cx="743.64" cy="78.15" r="6.8" fill="#fff" stroke="#ff5a14" stroke-width="1.4"/>
<circle cx="749.71" cy="62.08" r="6.8" fill="#fff" stroke="#ff5a14" stroke-width="1.4"/>
<circle cx="755.78" cy="63.92" r="6.8" fill="#fff" stroke="#ff5a14" stroke-width="1.4"/>
<circle cx="761.85" cy="66.32" r="6.8" fill="#fff" stroke="#ff5a14" stroke-width="1.4"/>
<circle cx="767.91" cy="80.43" r="6.8" fill="#fff" stroke="#ff5a14" stroke-width="1.4"/>
<circle cx="773.98" cy="72.88" r="6.8" fill="#fff" stroke="#ff5a14" stroke-width="1.4"/>
<circle cx="780.05" cy="64.56" r="6.8" fill="#fff" stroke="#ff5a14" stroke-width="1.4"/>
<circle cx="786.12" cy="79.51" r="6.8" fill="#fff" stroke="#ff5a14" stroke-width="1.4"/>
<circle cx="792.18" cy="70.34" r="6.8" fill="#fff" stroke="#ff5a14" stroke-width="1.4"/>
<circle cx="798.25" cy="66.63" r="6.8" fill="#fff" stroke="#ff5a14" stroke-width="1.4"/>
<circle cx="804.32" cy="69.72" r="6.8" fill="#fff" stroke="#ff5a14" stroke-width="1.4"/>
<circle cx="810.38" cy="65.84" r="6.8" fill="#fff" stroke="#ff5a14" stroke-width="1.4"/>
<circle cx="816.45" cy="67.25" r="6.8" fill="#fff" stroke="#ff5a14" stroke-width="1.4"/>
<circle cx="822.52" cy="68.18" r="6.8" fill="#fff" stroke="#ff5a14" stroke-width="1.4"/>
<circle cx="828.59" cy="67.55" r="6.8" fill="#fff" stroke="#ff5a14" stroke-width="1.4"/>
<circle cx="834.65" cy="67.12" r="6.8" fill="#fff" stroke="#ff5a14" stroke-width="1.4"/>
<circle cx="840.72" cy="67.82" r="6.8" fill="#fff" stroke="#ff5a14" stroke-width="1.4"/>
<circle cx="846.79" cy="66.46" r="6.8" fill="#fff" stroke="#ff5a14" stroke-width="1.4"/>
<circle cx="852.86" cy="68.86" r="6.8" fill="#fff" stroke="#ff5a14" stroke-width="1.4"/>
<circle cx="858.92" cy="68.53" r="6.8" fill="#fff" stroke="#ff5a14" stroke-width="1.4"/>
<circle cx="864.99" cy="66.6" r="6.8" fill="#fff" stroke="#ff5a14" stroke-width="1.4"/>
<circle cx="871.06" cy="67.94" r="6.8" fill="#fff" stroke="#ff5a14" stroke-width="1.4"/>
<circle cx="877.13" cy="69.15" r="6.8" fill="#fff" stroke="#ff5a14" stroke-width="1.4"/>
<circle cx="883.2" cy="66.72" r="6.8" fill="#fff" stroke="#ff5a14" stroke-width="1.4"/>
<circle cx="889.26" cy="66.03" r="6.8" fill="#fff" stroke="#ff5a14" stroke-width="1.4"/>
<circle cx="895.33" cy="68.57" r="6.8" fill="#fff" stroke="#ff5a14" stroke-width="1.4"/>
<circle cx="901.4" cy="69.81" r="6.8" fill="#fff" stroke="#ff5a14" stroke-width="1.4"/>
<circle cx="907.47" cy="68.16" r="6.8" fill="#fff" stroke="#ff5a14" stroke-width="1.4"/>
<circle cx="913.53" cy="68.18" r="6.8" fill="#fff" stroke="#ff5a14" stroke-width="1.4"/>
<circle cx="919.6" cy="68.37" r="6.8" fill="#fff" stroke="#ff5a14" stroke-width="1.4"/>
<circle cx="925.67" cy="66.11" r="6.8" fill="#fff" stroke="#ff5a14" stroke-width="1.4"/>
<circle cx="931.74" cy="69.34" r="6.8" fill="#fff" stroke="#ff5a14" stroke-width="1.4"/>
<circle cx="937.8" cy="66.31" r="6.8" fill="#fff" stroke="#ff5a14" stroke-width="1.4"/>
<circle cx="943.87" cy="69.66" r="6.8" fill="#fff" stroke="#ff5a14" stroke-width="1.4"/>
<circle cx="949.94" cy="69.02" r="6.8" fill="#fff" stroke="#ff5a14" stroke-width="1.4"/>
<circle cx="956" cy="67.14" r="6.8" fill="#fff" stroke="#ff5a14" stroke-width="1.4"/>
<circle cx="962.07" cy="66.48" r="6.8" fill="#fff" stroke="#ff5a14" stroke-width="1.4"/>
<circle cx="968.14" cy="66.84" r="6.8" fill="#fff" stroke="#ff5a14" stroke-width="1.4"/>
<circle cx="974.21" cy="67.52" r="6.8" fill="#fff" stroke="#ff5a14" stroke-width="1.4"/>
<circle cx="980.27" cy="67.79" r="6.8" fill="#fff" stroke="#ff5a14" stroke-width="1.4"/>
<circle cx="986.34" cy="67.78" r="6.8" fill="#fff" stroke="#ff5a14" stroke-width="1.4"/>
<circle cx="992.41" cy="67.21" r="6.8" fill="#fff" stroke="#ff5a14" stroke-width="1.4"/>
<circle cx="998.48" cy="68.21" r="6.8" fill="#fff" stroke="#ff5a14" stroke-width="1.4"/>
<circle cx="1004.54" cy="67.61" r="6.8" fill="#fff" stroke="#ff5a14" stroke-width="1.4"/>
<circle cx="1010.61" cy="67.22" r="6.8" fill="#fff" stroke="#ff5a14" stroke-width="1.4"/>
<circle cx="1016.68" cy="67.98" r="6.8" fill="#fff" stroke="#ff5a14" stroke-width="1.4"/>
<circle cx="1022.75" cy="66.96" r="6.8" fill="#fff" stroke="#ff5a14" stroke-width="1.4"/>
<circle cx="1028.82" cy="67.23" r="6.8" fill="#fff" stroke="#ff5a14" stroke-width="1.4"/>
<circle cx="1034.88" cy="65.31" r="6.8" fill="#fff" stroke="#ff5a14" stroke-width="1.4"/>
<circle cx="1040.95" cy="67.35" r="6.8" fill="#fff" stroke="#ff5a14" stroke-width="1.4"/>
<circle cx="1047.02" cy="70.34" r="6.8" fill="#fff" stroke="#ff5a14" stroke-width="1.4"/>
<circle cx="1053.09" cy="70.12" r="6.8" fill="#fff" stroke="#ff5a14" stroke-width="1.4"/>
<circle cx="1059.15" cy="68.69" r="6.8" fill="#fff" stroke="#ff5a14" stroke-width="1.4"/>
<circle cx="1065.22" cy="64.96" r="6.8" fill="#fff" stroke="#ff5a14" stroke-width="1.4"/>
<circle cx="1071.29" cy="69.98" r="6.8" fill="#fff" stroke="#ff5a14" stroke-width="1.4"/>
<circle cx="1077.36" cy="67.11" r="6.8" fill="#fff" stroke="#ff5a14" stroke-width="1.4"/>
<circle cx="1083.42" cy="61.33" r="6.8" fill="#fff" stroke="#ff5a14" stroke-width="1.4"/>
<circle cx="1089.49" cy="78.59" r="6.8" fill="#fff" stroke="#ff5a14" stroke-width="1.4"/>
<circle cx="1095.56" cy="73.11" r="6.8" fill="#fff" stroke="#ff5a14" stroke-width="1.4"/>
<circle cx="1101.62" cy="67.67" r="6.8" fill="#fff" stroke="#ff5a14" stroke-width="1.4"/>
<circle cx="1107.69" cy="67.06" r="6.8" fill="#fff" stroke="#ff5a14" stroke-width="1.4"/>
<circle cx="1113.76" cy="67.69" r="6.8" fill="#fff" stroke="#ff5a14" stroke-width="1.4"/>
<circle cx="1119.83" cy="70.36" r="6.8" fill="#fff" stroke="#ff5a14" stroke-width="1.4"/>
<circle cx="1125.89" cy="66.03" r="6.8" fill="#fff" stroke="#ff5a14" stroke-width="1.4"/>
<circle cx="1131.96" cy="67.52" r="6.8" fill="#fff" stroke="#ff5a14" stroke-width="1.4"/>
<circle cx="1138.03" cy="70.72" r="6.8" fill="#fff" stroke="#ff5a14" stroke-width="1.4"/>
<circle cx="1144.1" cy="58.97" r="6.8" fill="#fff" stroke="#ff5a14" stroke-width="1.4"/>
<circle cx="1150.16" cy="67.23" r="6.8" fill="#fff" stroke="#ff5a14" stroke-width="1.4"/>
<circle cx="1156.23" cy="70.85" r="6.8" fill="#fff" stroke="#ff5a14" stroke-width="1.4"/>
<circle cx="1162.3" cy="69.04" r="6.8" fill="#fff" stroke="#ff5a14" stroke-width="1.4"/>
<circle cx="1168.37" cy="69.54" r="6.8" fill="#fff" stroke="#ff5a14" stroke-width="1.4"/>
<circle cx="1174.43" cy="68.89" r="6.8" fill="#fff" stroke="#ff5a14" stroke-width="1.4"/>
<circle cx="1180.5" cy="78.59" r="6.8" fill="#fff" stroke="#ff5a14" stroke-width="1.4"/>
<circle cx="1186.57" cy="70.58" r="6.8" fill="#fff" stroke="#ff5a14" stroke-width="1.4"/>
<circle cx="1192.64" cy="64.63" r="6.8" fill="#fff" stroke="#ff5a14" stroke-width="1.4"/>
<circle cx="1198.7" cy="73.29" r="6.8" fill="#fff" stroke="#ff5a14" stroke-width="1.4"/>
<circle cx="1204.77" cy="68.91" r="6.8" fill="#fff" stroke="#ff5a14" stroke-width="1.4"/>
<circle cx="1210.84" cy="64.85" r="6.8" fill="#fff" stroke="#ff5a14" stroke-width="1.4"/>
<circle cx="1216.91" cy="65.23" r="6.8" fill="#fff" stroke="#ff5a14" stroke-width="1.4"/>
<circle cx="1222.97" cy="62.71" r="6.8" fill="#fff" stroke="#ff5a14" stroke-width="1.4"/>
<circle cx="1229.04" cy="75.41" r="6.8" fill="#fff" stroke="#ff5a14" stroke-width="1.4"/>
<circle cx="1235.11" cy="70.05" r="6.8" fill="#fff" stroke="#ff5a14" stroke-width="1.4"/>
<circle cx="1241.18" cy="70" r="6.8" fill="#fff" stroke="#ff5a14" stroke-width="1.4"/>
<circle cx="1247.24" cy="66.16" r="6.8" fill="#fff" stroke="#ff5a14" stroke-width="1.4"/>
<circle cx="1253.31" cy="64.3" r="6.8" fill="#fff" stroke="#ff5a14" stroke-width="1.4"/>
<circle cx="1259.38" cy="78.59" r="6.8" fill="#fff" stroke="#ff5a14" stroke-width="1.4"/>
<circle cx="1265.45" cy="64.31" r="6.8" fill="#fff" stroke="#ff5a14" stroke-width="1.4"/>
<circle cx="1271.52" cy="74.4" r="6.8" fill="#fff" stroke="#ff5a14" stroke-width="1.4"/>
<circle cx="1277.58" cy="65.92" r="6.8" fill="#fff" stroke="#ff5a14" stroke-width="1.4"/>
<circle cx="1283.65" cy="74.58" r="6.8" fill="#fff" stroke="#ff5a14" stroke-width="1.4"/>
<circle cx="1289.72" cy="67.94" r="6.8" fill="#fff" stroke="#ff5a14" stroke-width="1.4"/>
<circle cx="1295.79" cy="63.89" r="6.8" fill="#fff" stroke="#ff5a14" stroke-width="1.4"/>
<circle cx="1301.85" cy="69.24" r="6.8" fill="#fff" stroke="#ff5a14" stroke-width="1.4"/>
<circle cx="1307.92" cy="67.88" r="6.8" fill="#fff" stroke="#ff5a14" stroke-width="1.4"/>
<circle cx="1313.99" cy="68.52" r="6.8" fill="#fff" stroke="#ff5a14" stroke-width="1.4"/>
<circle cx="1320.06" cy="71.35" r="6.8" fill="#fff" stroke="#ff5a14" stroke-width="1.4"/>
<circle cx="1326.12" cy="72.34" r="6.8" fill="#fff" stroke="#ff5a14" stroke-width="1.4"/>
<circle cx="1332.19" cy="65.35" r="6.8" fill="#fff" stroke="#ff5a14" stroke-width="1.4"/>
<circle cx="1338.26" cy="67.44" r="6.8" fill="#fff" stroke="#ff5a14" stroke-width="1.4"/>
<circle cx="1344.33" cy="73.22" r="6.8" fill="#fff" stroke="#ff5a14" stroke-width="1.4"/>
<circle cx="1350.39" cy="62.01" r="6.8" fill="#fff" stroke="#ff5a14" stroke-width="1.4"/>
<circle cx="1356.46" cy="76.9" r="6.8" fill="#fff" stroke="#ff5a14" stroke-width="1.4"/>
<circle cx="1362.53" cy="68.01" r="6.8" fill="#fff" stroke="#ff5a14" stroke-width="1.4"/>
<circle cx="1368.6" cy="73.1" r="6.8" fill="#fff" stroke="#ff5a14" stroke-width="1.4"/>
<circle cx="1374.66" cy="71.39" r="6.8" fill="#fff" stroke="#ff5a14" stroke-width="1.4"/>
<circle cx="1380.73" cy="68.92" r="6.8" fill="#fff" stroke="#ff5a14" stroke-width="1.4"/>
<circle cx="1386.8" cy="81.24" r="6.8" fill="#fff" stroke="#ff5a14" stroke-width="1.4"/>
<circle cx="1392.87" cy="79.58" r="6.8" fill="#fff" stroke="#ff5a14" stroke-width="1.4"/>
<circle cx="1398.93" cy="91.19" r="6.8" fill="#fff" stroke="#ff5a14" stroke-width="1.4"/>
<circle cx="1405" cy="77.93" r="6.8" fill="#fff" stroke="#ff5a14" stroke-width="1.4"/>
<circle cx="197.57" cy="454.64" r="6.8" fill="#fff" stroke="#3aa8f5" stroke-width="1.4"/>
<circle cx="203.63" cy="131.98" r="6.8" fill="#fff" stroke="#3aa8f5" stroke-width="1.4"/>
<circle cx="209.7" cy="169.12" r="6.8" fill="#fff" stroke="#3aa8f5" stroke-width="1.4"/>
<circle cx="221.84" cy="164.81" r="6.8" fill="#fff" stroke="#3aa8f5" stroke-width="1.4"/>
<circle cx="227.91" cy="280.21" r="6.8" fill="#fff" stroke="#3aa8f5" stroke-width="1.4"/>
<circle cx="233.97" cy="133.31" r="6.8" fill="#fff" stroke="#3aa8f5" stroke-width="1.4"/>
<circle cx="240.04" cy="95.5" r="6.8" fill="#fff" stroke="#3aa8f5" stroke-width="1.4"/>
<circle cx="246.11" cy="99.81" r="6.8" fill="#fff" stroke="#3aa8f5" stroke-width="1.4"/>
<circle cx="252.18" cy="89.53" r="6.8" fill="#fff" stroke="#3aa8f5" stroke-width="1.4"/>
<circle cx="258.24" cy="111.42" r="6.8" fill="#fff" stroke="#3aa8f5" stroke-width="1.4"/>
<circle cx="264.31" cy="114.4" r="6.8" fill="#fff" stroke="#3aa8f5" stroke-width="1.4"/>
<circle cx="270.38" cy="122.03" r="6.8" fill="#fff" stroke="#3aa8f5" stroke-width="1.4"/>
<circle cx="276.44" cy="119.71" r="6.8" fill="#fff" stroke="#3aa8f5" stroke-width="1.4"/>
<circle cx="282.51" cy="127.01" r="6.8" fill="#fff" stroke="#3aa8f5" stroke-width="1.4"/>
<circle cx="288.58" cy="137.62" r="6.8" fill="#fff" stroke="#3aa8f5" stroke-width="1.4"/>
<circle cx="294.65" cy="122.03" r="6.8" fill="#fff" stroke="#3aa8f5" stroke-width="1.4"/>
<circle cx="300.72" cy="140.27" r="6.8" fill="#fff" stroke="#3aa8f5" stroke-width="1.4"/>
<circle cx="306.78" cy="132.97" r="6.8" fill="#fff" stroke="#3aa8f5" stroke-width="1.4"/>
<circle cx="312.85" cy="136.29" r="6.8" fill="#fff" stroke="#3aa8f5" stroke-width="1.4"/>
<circle cx="318.92" cy="171.77" r="6.8" fill="#fff" stroke="#3aa8f5" stroke-width="1.4"/>
<circle cx="324.99" cy="183.05" r="6.8" fill="#fff" stroke="#3aa8f5" stroke-width="1.4"/>
<circle cx="331.05" cy="173.1" r="6.8" fill="#fff" stroke="#3aa8f5" stroke-width="1.4"/>
<circle cx="337.12" cy="191.01" r="6.8" fill="#fff" stroke="#3aa8f5" stroke-width="1.4"/>
<circle cx="343.19" cy="209.25" r="6.8" fill="#fff" stroke="#3aa8f5" stroke-width="1.4"/>
<circle cx="349.25" cy="209.91" r="6.8" fill="#fff" stroke="#3aa8f5" stroke-width="1.4"/>
<circle cx="355.32" cy="259.32" r="6.8" fill="#fff" stroke="#3aa8f5" stroke-width="1.4"/>
<circle cx="361.39" cy="256" r="6.8" fill="#fff" stroke="#3aa8f5" stroke-width="1.4"/>
<circle cx="367.46" cy="274.91" r="6.8" fill="#fff" stroke="#3aa8f5" stroke-width="1.4"/>
<circle cx="373.52" cy="328.3" r="6.8" fill="#fff" stroke="#3aa8f5" stroke-width="1.4"/>
<circle cx="379.59" cy="409.54" r="6.8" fill="#fff" stroke="#3aa8f5" stroke-width="1.4"/>
<rect x="191.5" y="31.5" width="1213.5" height="431.1" fill="none" stroke="#000" stroke-width="2"/>
<line x1="191.5" y1="462.6" x2="191.5" y2="469.6" stroke="#000" stroke-width="1.9"/>
<text x="191.5" y="500" font-size="30" text-anchor="middle" font-weight="normal" fill="#000">0</text>
<line x1="434.2" y1="462.6" x2="434.2" y2="469.6" stroke="#000" stroke-width="1.9"/>
<text x="434.2" y="500" font-size="30" text-anchor="middle" font-weight="normal" fill="#000">40</text>
<line x1="676.9" y1="462.6" x2="676.9" y2="469.6" stroke="#000" stroke-width="1.9"/>
<text x="676.9" y="500" font-size="30" text-anchor="middle" font-weight="normal" fill="#000">80</text>
<line x1="919.6" y1="462.6" x2="919.6" y2="469.6" stroke="#000" stroke-width="1.9"/>
<text x="919.6" y="500" font-size="30" text-anchor="middle" font-weight="normal" fill="#000">120</text>
<line x1="1162.3" y1="462.6" x2="1162.3" y2="469.6" stroke="#000" stroke-width="1.9"/>
<text x="1162.3" y="500" font-size="30" text-anchor="middle" font-weight="normal" fill="#000">160</text>
<line x1="1405" y1="462.6" x2="1405" y2="469.6" stroke="#000" stroke-width="1.9"/>
<text x="1405" y="500" font-size="30" text-anchor="middle" font-weight="normal" fill="#000">200</text>
<line x1="312.85" y1="462.6" x2="312.85" y2="466.6" stroke="#000" stroke-width="1.9"/>
<line x1="555.55" y1="462.6" x2="555.55" y2="466.6" stroke="#000" stroke-width="1.9"/>
<line x1="798.25" y1="462.6" x2="798.25" y2="466.6" stroke="#000" stroke-width="1.9"/>
<line x1="1040.95" y1="462.6" x2="1040.95" y2="466.6" stroke="#000" stroke-width="1.9"/>
<line x1="1283.65" y1="462.6" x2="1283.65" y2="466.6" stroke="#000" stroke-width="1.9"/>
<line x1="191.5" y1="462.6" x2="184.5" y2="462.6" stroke="#000" stroke-width="1.9"/>
<text x="180" y="472.2" font-size="30" text-anchor="end" font-weight="normal" fill="#000">0</text>
<line x1="191.5" y1="376.38" x2="184.5" y2="376.38" stroke="#000" stroke-width="1.9"/>
<text x="180" y="385.98" font-size="30" text-anchor="end" font-weight="normal" fill="#000">50</text>
<line x1="191.5" y1="290.16" x2="184.5" y2="290.16" stroke="#000" stroke-width="1.9"/>
<text x="180" y="299.76" font-size="30" text-anchor="end" font-weight="normal" fill="#000">100</text>
<line x1="191.5" y1="203.94" x2="184.5" y2="203.94" stroke="#000" stroke-width="1.9"/>
<text x="180" y="213.54" font-size="30" text-anchor="end" font-weight="normal" fill="#000">150</text>
<line x1="191.5" y1="117.72" x2="184.5" y2="117.72" stroke="#000" stroke-width="1.9"/>
<text x="180" y="127.32" font-size="30" text-anchor="end" font-weight="normal" fill="#000">200</text>
<line x1="191.5" y1="31.5" x2="184.5" y2="31.5" stroke="#000" stroke-width="1.9"/>
<text x="180" y="41.1" font-size="30" text-anchor="end" font-weight="normal" fill="#000">250</text>
<line x1="191.5" y1="419.49" x2="187.5" y2="419.49" stroke="#000" stroke-width="1.9"/>
<line x1="191.5" y1="333.27" x2="187.5" y2="333.27" stroke="#000" stroke-width="1.9"/>
<line x1="191.5" y1="247.05" x2="187.5" y2="247.05" stroke="#000" stroke-width="1.9"/>
<line x1="191.5" y1="160.83" x2="187.5" y2="160.83" stroke="#000" stroke-width="1.9"/>
<line x1="191.5" y1="74.61" x2="187.5" y2="74.61" stroke="#000" stroke-width="1.9"/>
<line x1="1405" y1="462.6" x2="1412" y2="462.6" stroke="#000" stroke-width="1.9"/>
<text x="1418.7" y="472.2" font-size="30" text-anchor="start" font-weight="normal" fill="#000">88</text>
<line x1="1405" y1="396.28" x2="1412" y2="396.28" stroke="#000" stroke-width="1.9"/>
<text x="1418.7" y="405.88" font-size="30" text-anchor="start" font-weight="normal" fill="#000">90</text>
<line x1="1405" y1="329.95" x2="1412" y2="329.95" stroke="#000" stroke-width="1.9"/>
<text x="1418.7" y="339.55" font-size="30" text-anchor="start" font-weight="normal" fill="#000">92</text>
<line x1="1405" y1="263.63" x2="1412" y2="263.63" stroke="#000" stroke-width="1.9"/>
<text x="1418.7" y="273.23" font-size="30" text-anchor="start" font-weight="normal" fill="#000">94</text>
<line x1="1405" y1="197.31" x2="1412" y2="197.31" stroke="#000" stroke-width="1.9"/>
<text x="1418.7" y="206.91" font-size="30" text-anchor="start" font-weight="normal" fill="#000">96</text>
<line x1="1405" y1="130.98" x2="1412" y2="130.98" stroke="#000" stroke-width="1.9"/>
<text x="1418.7" y="140.58" font-size="30" text-anchor="start" font-weight="normal" fill="#000">98</text>
<line x1="1405" y1="64.66" x2="1412" y2="64.66" stroke="#000" stroke-width="1.9"/>
<text x="1418.7" y="74.26" font-size="30" text-anchor="start" font-weight="normal" fill="#000">100</text>
<line x1="1405" y1="429.44" x2="1409" y2="429.44" stroke="#000" stroke-width="1.9"/>
<line x1="1405" y1="363.12" x2="1409" y2="363.12" stroke="#000" stroke-width="1.9"/>
<line x1="1405" y1="296.79" x2="1409" y2="296.79" stroke="#000" stroke-width="1.9"/>
<line x1="1405" y1="230.47" x2="1409" y2="230.47" stroke="#000" stroke-width="1.9"/>
<line x1="1405" y1="164.15" x2="1409" y2="164.15" stroke="#000" stroke-width="1.9"/>
<line x1="1405" y1="97.82" x2="1409" y2="97.82" stroke="#000" stroke-width="1.9"/>
<text x="808" y="535.5" font-size="36.5" text-anchor="middle" font-weight="normal" fill="#000">Cycle number</text>
<text x="112.5" y="228.5" font-size="29.3" text-anchor="middle" font-weight="normal" fill="#000" transform="rotate(-90 112.5 228.5)">Discharge capacity (mAh g<tspan dy="-13.5" font-size="20.5">&#8722;1</tspan><tspan dy="13.5" dx="2">)</tspan></text>
<text x="1463.3" y="237" font-size="30" text-anchor="middle" font-weight="normal" fill="#000" transform="rotate(90 1463.3 237)">C.E. (%)</text>
<text x="361" y="145.5" font-size="40.4" text-anchor="start" font-weight="normal" fill="#000">0.1 C</text>
<text x="548.2" y="166" font-size="40.4" text-anchor="start" font-weight="normal" fill="#000">0.5 C</text>
<text x="1295.5" y="218.2" font-size="30.9" text-anchor="start" font-weight="normal" fill="#000">72.3%</text>
<line x1="226" y1="151.3" x2="342" y2="132.6" stroke="#ff5a14" stroke-width="1.9"/>
<polygon points="352.8,130.8 340.61,136.82 339.33,128.93" fill="#ff5a14"/>
<line x1="545.6" y1="207" x2="568" y2="181" stroke="#ff5a14" stroke-width="1.8"/>
<polygon points="573.7,174.5 568.88,186.19 562.83,180.96" fill="#ff5a14"/>
<line x1="564.3" y1="239.8" x2="564.3" y2="258.8" stroke="#333" stroke-width="1"/>
<line x1="564.3" y1="258.8" x2="482" y2="258.8" stroke="#333" stroke-width="1"/>
<polygon points="477.4,258.8 486.4,256.3 486.4,261.3" fill="#333"/>
<line x1="1041.9" y1="103.4" x2="1041.9" y2="125.6" stroke="#000" stroke-width="1.6"/>
<line x1="1041.9" y1="125.6" x2="1205" y2="125.6" stroke="#000" stroke-width="1.6"/>
<polygon points="1218.4,125.6 1204.4,128.6 1204.4,122.6" fill="#000"/>
<text x="453.6" y="370" font-size="28.2" text-anchor="start" font-weight="normal" fill="#000">3.0-4.3 V</text>
<text x="452.2" y="408.1" font-size="28.4" text-anchor="start" font-weight="normal" fill="#000">Mass loading: 21.6 mg cm<tspan dy="-10.5" font-size="18.5">&#8722;2</tspan></text>
<text x="453.6" y="441.6" font-size="28.2" text-anchor="start" font-weight="normal" fill="#000">60 &#956;L</text>
<line x1="1247.5" y1="373.3" x2="1261.9" y2="373.3" stroke="#3aa8f5" stroke-width="1" opacity="0.75"/>
<line x1="1281.7" y1="373.3" x2="1296.1" y2="373.3" stroke="#3aa8f5" stroke-width="1" opacity="0.75"/>
<circle cx="1270.5" cy="372.6" r="7.5" fill="url(#gB)"/>
<text x="1306" y="380.8" font-size="39.8" text-anchor="start" font-weight="normal" fill="#000">BE</text>
<line x1="1247.5" y1="423.4" x2="1261.9" y2="423.4" stroke="#ff5a14" stroke-width="1" opacity="0.75"/>
<line x1="1281.7" y1="423.4" x2="1296.1" y2="423.4" stroke="#ff5a14" stroke-width="1" opacity="0.75"/>
<circle cx="1270.5" cy="421.9" r="7.5" fill="url(#gO)"/>
<text x="1307" y="430" font-size="39.8" text-anchor="start" font-weight="normal" fill="#000">AFE</text>
<text x="-2.2" y="598.2" font-size="63" text-anchor="start" font-weight="bold" fill="#000">b</text>
<text x="736.1" y="590.5" font-size="63" text-anchor="start" font-weight="bold" fill="#000">c</text>
<path d="M190.5,772 C190.58,771.33 190.75,769.28 191,768 C191.25,766.72 189.48,765.58 192,764.3 C194.52,763.02 198.75,761.3 206.1,760.3 C213.45,759.3 226.08,758.88 236.1,758.3 C246.12,757.72 256.17,757.3 266.2,756.8 C276.23,756.3 287.93,755.68 296.3,755.3 C304.67,754.92 309.78,754.83 316.4,754.5 C323.02,754.17 328.72,754 336,753.3 C343.28,752.6 351.07,751.38 360.1,750.3 C369.13,749.22 381.85,747.63 390.2,746.8 C398.55,745.97 403.52,746.05 410.2,745.3 C416.88,744.55 423.62,743.3 430.3,742.3 C436.98,741.3 442.02,740.55 450.3,739.3 C458.58,738.05 471.72,736.35 480,734.8 C488.28,733.25 492.52,732.18 500,730 C507.48,727.82 514.52,725.27 524.9,721.7 C535.28,718.13 549.83,713.28 562.3,708.6 C574.77,703.92 587.22,698.92 599.7,693.6 C612.18,688.28 624.72,682.32 637.2,676.7 C649.68,671.08 663.85,664.57 674.6,659.9 C685.35,655.23 697.18,650.57 701.7,648.7" fill="none" stroke="#000000" stroke-width="3.5" stroke-linejoin="round" stroke-linecap="round"/>
<path d="M190.5,648.5 C192.25,650.08 195.07,654.07 201,658 C206.93,661.93 216.9,666.92 226.1,672.1 C235.3,677.28 246.17,684.08 256.2,689.1 C266.23,694.12 276.27,697.68 286.3,702.2 C296.33,706.72 309.12,713.03 316.4,716.2 C323.68,719.37 324.38,719.2 330,721.2 C335.62,723.2 343.42,725.68 350.1,728.2 C356.78,730.72 363.42,733.78 370.1,736.3 C376.78,738.82 383.52,741.47 390.2,743.3 C396.88,745.13 403.52,745.97 410.2,747.3 C416.88,748.63 423.62,750.13 430.3,751.3 C436.98,752.47 441.28,752.85 450.3,754.3 C459.32,755.75 471.97,758.27 484.4,760 C496.83,761.73 511.92,762.67 524.9,764.7 C537.88,766.73 549.83,769.7 562.3,772.2 C574.77,774.7 590.35,777.2 599.7,779.7 C609.05,782.2 613.72,784.7 618.4,787.2 C623.08,789.7 625.13,790.03 627.8,794.7 C630.47,799.37 632.68,807.1 634.4,815.2 C636.12,823.3 637.02,832.38 638.1,843.3 C639.18,854.22 640.28,872.43 640.9,880.7 C641.52,888.97 641.65,890.87 641.8,892.9" fill="none" stroke="#000000" stroke-width="3.5" stroke-linejoin="round" stroke-linecap="round"/>
<path d="M191,736.3 C191.83,737.3 193.48,740.8 196,742.3 C198.52,743.8 201.08,745.13 206.1,745.3 C211.12,745.47 219.42,744.13 226.1,743.3 C232.78,742.47 239.52,741.47 246.2,740.3 C252.88,739.13 259.52,737.47 266.2,736.3 C272.88,735.13 279.62,734.48 286.3,733.3 C292.98,732.12 299.02,730.47 306.3,729.2 C313.58,727.93 321.03,727.7 330,725.7 C338.97,723.7 350.07,720.12 360.1,717.2 C370.13,714.28 380.18,711.2 390.2,708.2 C400.22,705.2 410.18,702.72 420.2,699.2 C430.22,695.68 440.33,690.95 450.3,687.1 C460.27,683.25 469.72,680.12 480,676.1 C490.28,672.08 501.25,667.57 512,663 C522.75,658.43 539.08,651.08 544.5,648.7" fill="none" stroke="#3ba3f2" stroke-width="3.5" stroke-linejoin="round" stroke-linecap="round"/>
<path d="M190.5,666.1 C191.08,668.1 192.25,674.93 194,678.1 C195.75,681.27 197.32,682.6 201,685.1 C204.68,687.6 210.25,690.08 216.1,693.1 C221.95,696.12 229.42,699.68 236.1,703.2 C242.78,706.72 249.52,710.87 256.2,714.2 C262.88,717.53 269.52,719.85 276.2,723.2 C282.88,726.55 289.6,730.95 296.3,734.3 C303,737.65 310.78,740.97 316.4,743.3 C322.02,745.63 322.72,745.8 330,748.3 C337.28,750.8 350.07,755.47 360.1,758.3 C370.13,761.13 380.18,763.12 390.2,765.3 C400.22,767.48 410.63,769.1 420.2,771.4 C429.77,773.7 440.57,776.58 447.6,779.1 C454.63,781.62 457.98,783.52 462.4,786.5 C466.82,789.48 469.2,793.33 474.1,797 C479,800.67 485.67,804.62 491.8,808.5 C497.93,812.38 506,815.63 510.9,820.3 C515.8,824.97 518.27,830.62 521.2,836.5 C524.13,842.38 526.55,846.28 528.5,855.6 C530.45,864.92 532.17,886.27 532.9,892.4" fill="none" stroke="#3ba3f2" stroke-width="3.5" stroke-linejoin="round" stroke-linecap="round"/>
<path d="M191,735.8 C192.67,735.88 196.82,736.22 201,736.3 C205.18,736.38 210.25,736.8 216.1,736.3 C221.95,735.8 227.75,734.48 236.1,733.3 C244.45,732.12 256.17,730.88 266.2,729.2 C276.23,727.52 287.93,724.87 296.3,723.2 C304.67,721.53 309.78,720.62 316.4,719.2 C323.02,717.78 328.72,716.87 336,714.7 C343.28,712.53 351.07,709.47 360.1,706.2 C369.13,702.93 380.18,699.12 390.2,695.1 C400.22,691.08 410.18,686.43 420.2,682.1 C430.22,677.77 440.33,673.78 450.3,669.1 C460.27,664.42 472.88,657.4 480,654 C487.12,650.6 490.83,649.58 493,648.7" fill="none" stroke="#0b6ea6" stroke-width="3.5" stroke-linejoin="round" stroke-linecap="round"/>
<path d="M190.5,667.1 C191.08,669.6 191.4,677.77 194,682.1 C196.6,686.43 200.75,689.25 206.1,693.1 C211.45,696.95 219.42,701.52 226.1,705.2 C232.78,708.88 239.52,711.87 246.2,715.2 C252.88,718.53 259.52,721.68 266.2,725.2 C272.88,728.72 279.62,732.78 286.3,736.3 C292.98,739.82 299.02,742.63 306.3,746.3 C313.58,749.97 321.03,754.63 330,758.3 C338.97,761.97 350.07,765.12 360.1,768.3 C370.13,771.48 380.52,774.13 390.2,777.4 C399.88,780.67 408.63,783.7 418.2,787.9 C427.77,792.1 439.02,797.68 447.6,802.6 C456.18,807.52 464.3,812.25 469.7,817.4 C475.1,822.55 477.05,827.13 480,833.5 C482.95,839.87 485.57,845.78 487.4,855.6 C489.23,865.42 490.4,886.27 491,892.4" fill="none" stroke="#0b6ea6" stroke-width="3.5" stroke-linejoin="round" stroke-linecap="round"/>
<path d="M191,735.3 C191.83,734.28 193.48,730.55 196,729.2 C198.52,727.85 201.08,727.78 206.1,727.2 C211.12,726.62 219.42,726.53 226.1,725.7 C232.78,724.87 239.52,723.45 246.2,722.2 C252.88,720.95 259.52,719.45 266.2,718.2 C272.88,716.95 279.62,716.2 286.3,714.7 C292.98,713.2 299.02,711.12 306.3,709.2 C313.58,707.28 321.03,706.38 330,703.2 C338.97,700.02 350.07,694.62 360.1,690.1 C370.13,685.58 380.18,681.1 390.2,676.1 C400.22,671.1 411.18,664.7 420.2,660.1 C429.22,655.5 440.28,650.43 444.3,648.5" fill="none" stroke="#22dcdc" stroke-width="3.5" stroke-linejoin="round" stroke-linecap="round"/>
<path d="M190.5,672.1 C191.08,674.6 192.25,682.58 194,687.1 C195.75,691.62 197.32,694.68 201,699.2 C204.68,703.72 210.25,709.37 216.1,714.2 C221.95,719.03 229.42,723.85 236.1,728.2 C242.78,732.55 249.52,736.45 256.2,740.3 C262.88,744.15 269.52,747.8 276.2,751.3 C282.88,754.8 289.6,758.12 296.3,761.3 C303,764.48 310.78,768.2 316.4,770.4 C322.02,772.6 322.83,771.82 330,774.5 C337.17,777.18 349.6,782.55 359.4,786.5 C369.2,790.45 380.22,793.55 388.8,798.2 C397.38,802.85 404.77,808.52 410.9,814.4 C417.03,820.28 421.93,827.37 425.6,833.5 C429.27,839.63 430.93,844.82 432.9,851.2 C434.87,857.58 436.42,864.93 437.4,871.8 C438.38,878.67 438.57,888.97 438.8,892.4" fill="none" stroke="#22dcdc" stroke-width="3.5" stroke-linejoin="round" stroke-linecap="round"/>
<path d="M191,694.1 C191.83,691.43 194.33,683.1 196,678.1 C197.67,673.1 199.07,669.12 201,664.1 C202.93,659.08 206.5,650.68 207.6,648" fill="none" stroke="#ff5010" stroke-width="3.5" stroke-linejoin="round" stroke-linecap="round"/>
<path d="M190.5,736.3 C191.08,739.47 192.92,748.78 194,755.3 C195.08,761.82 196.17,769.62 197,775.4 C197.83,781.18 198.2,781.8 199,790 C199.8,798.2 200.38,807.6 201.8,824.6 C203.22,841.6 206.55,880.77 207.5,892" fill="none" stroke="#ff5010" stroke-width="3.5" stroke-linejoin="round" stroke-linecap="round"/>
<rect x="190.5" y="611.2" width="535" height="374.4" fill="none" stroke="#000" stroke-width="1.9"/>
<line x1="190.5" y1="985.6" x2="190.5" y2="992.6" stroke="#000" stroke-width="1.9"/>
<text x="190.5" y="1022" font-size="28.8" text-anchor="middle" font-weight="normal" fill="#000">0</text>
<line x1="320.99" y1="985.6" x2="320.99" y2="992.6" stroke="#000" stroke-width="1.9"/>
<text x="320.99" y="1022" font-size="28.8" text-anchor="middle" font-weight="normal" fill="#000">50</text>
<line x1="451.48" y1="985.6" x2="451.48" y2="992.6" stroke="#000" stroke-width="1.9"/>
<text x="451.48" y="1022" font-size="28.8" text-anchor="middle" font-weight="normal" fill="#000">100</text>
<line x1="581.96" y1="985.6" x2="581.96" y2="992.6" stroke="#000" stroke-width="1.9"/>
<text x="581.96" y="1022" font-size="28.8" text-anchor="middle" font-weight="normal" fill="#000">150</text>
<line x1="712.45" y1="985.6" x2="712.45" y2="992.6" stroke="#000" stroke-width="1.9"/>
<text x="712.45" y="1022" font-size="28.8" text-anchor="middle" font-weight="normal" fill="#000">200</text>
<line x1="255.74" y1="985.6" x2="255.74" y2="989.1" stroke="#000" stroke-width="1.9"/>
<line x1="386.23" y1="985.6" x2="386.23" y2="989.1" stroke="#000" stroke-width="1.9"/>
<line x1="516.72" y1="985.6" x2="516.72" y2="989.1" stroke="#000" stroke-width="1.9"/>
<line x1="647.21" y1="985.6" x2="647.21" y2="989.1" stroke="#000" stroke-width="1.9"/>
<line x1="190.5" y1="985.6" x2="183.5" y2="985.6" stroke="#000" stroke-width="1.9"/>
<text x="178" y="994.1" font-size="28.8" text-anchor="end" font-weight="normal" fill="#000">2.5</text>
<line x1="190.5" y1="892" x2="183.5" y2="892" stroke="#000" stroke-width="1.9"/>
<text x="178" y="900.5" font-size="28.8" text-anchor="end" font-weight="normal" fill="#000">3.0</text>
<line x1="190.5" y1="798.4" x2="183.5" y2="798.4" stroke="#000" stroke-width="1.9"/>
<text x="178" y="806.9" font-size="28.8" text-anchor="end" font-weight="normal" fill="#000">3.5</text>
<line x1="190.5" y1="704.8" x2="183.5" y2="704.8" stroke="#000" stroke-width="1.9"/>
<text x="178" y="713.3" font-size="28.8" text-anchor="end" font-weight="normal" fill="#000">4.0</text>
<line x1="190.5" y1="611.2" x2="183.5" y2="611.2" stroke="#000" stroke-width="1.9"/>
<text x="178" y="619.7" font-size="28.8" text-anchor="end" font-weight="normal" fill="#000">4.5</text>
<line x1="190.5" y1="938.8" x2="187" y2="938.8" stroke="#000" stroke-width="1.9"/>
<line x1="190.5" y1="845.2" x2="187" y2="845.2" stroke="#000" stroke-width="1.9"/>
<line x1="190.5" y1="751.6" x2="187" y2="751.6" stroke="#000" stroke-width="1.9"/>
<line x1="190.5" y1="658" x2="187" y2="658" stroke="#000" stroke-width="1.9"/>
<text x="126.5" y="781.5" font-size="30" text-anchor="middle" font-weight="normal" fill="#000" transform="rotate(-90 126.5 781.5)">Voltage (V versus Li<tspan dy="-18" font-size="23">+</tspan><tspan dy="18">/Li)</tspan></text>
<text x="459" y="1062.5" font-size="29.5" text-anchor="middle" font-weight="normal" fill="#000">Specific capacity (mAh g<tspan dy="-14.5" font-size="20.5">&#8722;1</tspan><tspan dy="14.5" dx="2.5">)</tspan></text>
<text x="237.6" y="651.7" font-size="31.3" text-anchor="start" font-weight="normal" fill="#000">BE</text>
<line x1="217.2" y1="818.4" x2="274.4" y2="818.4" stroke="#000000" stroke-width="3.6" stroke-linecap="round"/>
<text x="282" y="827.5" font-size="26" style="white-space:pre">1 st  0.1C</text>
<line x1="217.2" y1="850.4" x2="274.4" y2="850.4" stroke="#3ba3f2" stroke-width="3.6" stroke-linecap="round"/>
<text x="282" y="859.5" font-size="26" style="white-space:pre">5 th  0.5C</text>
<line x1="217.2" y1="882.1" x2="274.4" y2="882.1" stroke="#0b6ea6" stroke-width="3.6" stroke-linecap="round"/>
<text x="282" y="891.2" font-size="26" style="white-space:pre">10 th 0.5C</text>
<line x1="217.2" y1="914" x2="274.4" y2="914" stroke="#22dcdc" stroke-width="3.6" stroke-linecap="round"/>
<text x="282" y="923.1" font-size="26" style="white-space:pre">20 th 0.5C</text>
<line x1="217.2" y1="946" x2="274.4" y2="946" stroke="#ff5010" stroke-width="3.6" stroke-linecap="round"/>
<text x="282" y="955.1" font-size="26" style="white-space:pre">50 th 0.5C</text>
<path d="M869.5,790 C869.58,785.88 868.92,770 870,765.3 C871.08,760.6 871.65,762.8 876,761.8 C880.35,760.8 887.73,759.88 896.1,759.3 C904.47,758.72 916.18,758.63 926.2,758.3 C936.22,757.97 946.18,757.88 956.2,757.3 C966.22,756.72 976.33,755.63 986.3,754.8 C996.27,753.97 1005.7,753.25 1016,752.3 C1026.3,751.35 1034.72,750.7 1048.1,749.1 C1061.48,747.5 1082.92,744.57 1096.3,742.7 C1109.68,740.83 1117.72,739.65 1128.4,737.9 C1139.08,736.15 1149.72,734.48 1160.4,732.2 C1171.08,729.92 1181.8,727 1192.5,724.2 C1203.2,721.4 1216.3,717.68 1224.6,715.4 C1232.9,713.12 1233.12,713.52 1242.3,710.5 C1251.48,707.48 1267.22,702.15 1279.7,697.3 C1292.18,692.45 1304.72,686.7 1317.2,681.4 C1329.68,676.1 1342.75,670.9 1354.6,665.5 C1366.45,660.1 1382.68,651.75 1388.3,649" fill="none" stroke="#000000" stroke-width="3.5" stroke-linejoin="round" stroke-linecap="round"/>
<path d="M869.5,653.5 C869.58,653.75 867.23,653.07 870,655 C872.77,656.93 878.42,660.75 886.1,665.1 C893.78,669.45 906.08,676.1 916.1,681.1 C926.12,686.1 936.17,690.42 946.2,695.1 C956.23,699.78 966.27,704.85 976.3,709.2 C986.33,713.55 997.1,717.65 1006.4,721.2 C1015.7,724.75 1022.47,727.35 1032.1,730.5 C1041.73,733.65 1053.5,737.17 1064.2,740.1 C1074.9,743.03 1085.6,745.75 1096.3,748.1 C1107,750.45 1117.72,752.35 1128.4,754.2 C1139.08,756.05 1149.72,757.65 1160.4,759.2 C1171.08,760.75 1179.23,761.7 1192.5,763.5 C1205.77,765.3 1225.47,767.62 1240,770 C1254.53,772.38 1269.97,775.57 1279.7,777.8 C1289.43,780.03 1293.1,780.9 1298.4,783.4 C1303.7,785.9 1308.07,789.05 1311.5,792.8 C1314.93,796.55 1316.82,799.03 1319,805.9 C1321.18,812.77 1323.03,823.08 1324.6,834 C1326.17,844.92 1327.52,861.58 1328.4,871.4 C1329.28,881.22 1329.65,889.32 1329.9,892.9" fill="none" stroke="#000000" stroke-width="3.5" stroke-linejoin="round" stroke-linecap="round"/>
<path d="M870,763.8 C871,762.55 871.65,757.97 876,756.3 C880.35,754.63 887.73,754.72 896.1,753.8 C904.47,752.88 916.18,751.72 926.2,750.8 C936.22,749.88 946.18,749.22 956.2,748.3 C966.22,747.38 976.33,746.38 986.3,745.3 C996.27,744.22 1008.37,742.83 1016,741.8 C1023.63,740.77 1024.07,740.63 1032.1,739.1 C1040.13,737.57 1053.5,735.15 1064.2,732.6 C1074.9,730.05 1085.6,727.13 1096.3,723.8 C1107,720.47 1117.72,716.6 1128.4,712.6 C1139.08,708.6 1149.72,704.22 1160.4,699.8 C1171.08,695.38 1181.8,690.65 1192.5,686.1 C1203.2,681.55 1216.3,676.08 1224.6,672.5 C1232.9,668.92 1232.65,668.52 1242.3,664.6 C1251.95,660.68 1275.8,651.6 1282.5,649" fill="none" stroke="#3ba3f2" stroke-width="3.5" stroke-linejoin="round" stroke-linecap="round"/>
<path d="M870,761.3 C871,760.13 871.65,755.88 876,754.3 C880.35,752.72 887.73,752.63 896.1,751.8 C904.47,750.97 916.18,750.22 926.2,749.3 C936.22,748.38 946.18,747.3 956.2,746.3 C966.22,745.3 976.33,744.3 986.3,743.3 C996.27,742.3 1008.37,741.2 1016,740.3 C1023.63,739.4 1024.07,739.38 1032.1,737.9 C1040.13,736.42 1053.5,733.95 1064.2,731.4 C1074.9,728.85 1085.6,725.93 1096.3,722.6 C1107,719.27 1117.72,715.4 1128.4,711.4 C1139.08,707.4 1149.72,703.02 1160.4,698.6 C1171.08,694.18 1181.8,689.45 1192.5,684.9 C1203.2,680.35 1216.3,674.95 1224.6,671.3 C1232.9,667.65 1234.05,666.72 1242.3,663 C1250.55,659.28 1268.8,651.33 1274.1,649" fill="none" stroke="#0b6ea6" stroke-width="3.5" stroke-linejoin="round" stroke-linecap="round"/>
<path d="M870,758.3 C871,757.13 871.65,752.8 876,751.3 C880.35,749.8 887.73,750.05 896.1,749.3 C904.47,748.55 916.18,747.8 926.2,746.8 C936.22,745.8 946.18,744.47 956.2,743.3 C966.22,742.13 976.33,740.88 986.3,739.8 C996.27,738.72 1008.37,737.6 1016,736.8 C1023.63,736 1024.07,736.3 1032.1,735 C1040.13,733.7 1053.5,731.47 1064.2,729 C1074.9,726.53 1085.6,723.8 1096.3,720.2 C1107,716.6 1117.72,711.68 1128.4,707.4 C1139.08,703.12 1149.72,698.92 1160.4,694.5 C1171.08,690.08 1181.8,685.57 1192.5,680.9 C1203.2,676.23 1213.02,671.82 1224.6,666.5 C1236.18,661.18 1255.77,651.92 1262,649" fill="none" stroke="#22dcdc" stroke-width="3.5" stroke-linejoin="round" stroke-linecap="round"/>
<path d="M870,756.3 C870.67,754.97 871.32,749.97 874,748.3 C876.68,746.63 879.08,746.88 886.1,746.3 C893.12,745.72 906.08,745.63 916.1,744.8 C926.12,743.97 936.17,742.47 946.2,741.3 C956.23,740.13 966.27,738.97 976.3,737.8 C986.33,736.63 997.1,735.63 1006.4,734.3 C1015.7,732.97 1022.47,731.88 1032.1,729.8 C1041.73,727.72 1053.5,724.73 1064.2,721.8 C1074.9,718.87 1085.6,715.93 1096.3,712.2 C1107,708.47 1117.72,703.95 1128.4,699.4 C1139.08,694.85 1149.72,689.72 1160.4,684.9 C1171.08,680.08 1181.8,675.32 1192.5,670.5 C1203.2,665.68 1216.68,659.58 1224.6,656 C1232.52,652.42 1237.43,650.17 1240,649" fill="none" stroke="#ff5010" stroke-width="3.5" stroke-linejoin="round" stroke-linecap="round"/>
<path d="M870,662.5 C870.67,664.22 871.32,669.58 874,672.8 C876.68,676.02 880.75,678.8 886.1,681.8 C891.45,684.8 899.42,687.8 906.1,690.8 C912.78,693.8 919.52,696.8 926.2,699.8 C932.88,702.8 939.52,705.63 946.2,708.8 C952.88,711.97 959.62,715.63 966.3,718.8 C972.98,721.97 979.62,724.77 986.3,727.8 C992.98,730.83 1001.45,734.72 1006.4,737 C1011.35,739.28 1010.4,739.33 1016,741.5 C1021.6,743.67 1031.97,747.67 1040,750 C1048.03,752.33 1052.15,753.12 1064.2,755.5 C1076.25,757.88 1096.27,761.62 1112.3,764.3 C1128.33,766.98 1147.03,769.58 1160.4,771.6 C1173.77,773.62 1181.8,774.4 1192.5,776.4 C1203.2,778.4 1216.68,781.33 1224.6,783.6 C1232.52,785.87 1235.48,787.53 1240,790 C1244.52,792.47 1247.57,794.82 1251.7,798.4 C1255.83,801.98 1261.38,805.57 1264.8,811.5 C1268.22,817.43 1270.02,825.58 1272.2,834 C1274.38,842.42 1276.48,852.18 1277.9,862 C1279.32,871.82 1280.23,887.75 1280.7,892.9" fill="none" stroke="#3ba3f2" stroke-width="3.5" stroke-linejoin="round" stroke-linecap="round"/>
<path d="M870,663.1 C870.67,664.77 871.32,669.93 874,673.1 C876.68,676.27 880.75,679.1 886.1,682.1 C891.45,685.1 899.42,688.08 906.1,691.1 C912.78,694.12 919.52,697.18 926.2,700.2 C932.88,703.22 939.52,706.03 946.2,709.2 C952.88,712.37 959.62,716.03 966.3,719.2 C972.98,722.37 979.62,725.18 986.3,728.2 C992.98,731.22 1001.45,734.92 1006.4,737.3 C1011.35,739.68 1010.4,740.22 1016,742.5 C1021.6,744.78 1031.97,748.67 1040,751 C1048.03,753.33 1052.15,754 1064.2,756.5 C1076.25,759 1096.27,763.18 1112.3,766 C1128.33,768.82 1147.03,771.23 1160.4,773.4 C1173.77,775.57 1181.8,776.47 1192.5,779 C1203.2,781.53 1216.68,785.6 1224.6,788.6 C1232.52,791.6 1235.77,793.77 1240,797 C1244.23,800.23 1246.82,802.78 1250,808 C1253.18,813.22 1256.33,820.85 1259.1,828.3 C1261.87,835.75 1264.57,844.58 1266.6,852.7 C1268.63,860.82 1270.2,870.3 1271.3,877 C1272.4,883.7 1272.88,890.25 1273.2,892.9" fill="none" stroke="#0b6ea6" stroke-width="3.5" stroke-linejoin="round" stroke-linecap="round"/>
<path d="M870,665.6 C870.67,667.27 871.32,672.35 874,675.6 C876.68,678.85 880.75,681.93 886.1,685.1 C891.45,688.27 899.42,691.42 906.1,694.6 C912.78,697.78 919.52,700.93 926.2,704.2 C932.88,707.47 939.52,710.87 946.2,714.2 C952.88,717.53 959.62,721.02 966.3,724.2 C972.98,727.38 979.62,730.08 986.3,733.3 C992.98,736.52 1001.45,741.22 1006.4,743.5 C1011.35,745.78 1011.72,745.62 1016,747 C1020.28,748.38 1024.07,749.85 1032.1,751.8 C1040.13,753.75 1050.83,756.08 1064.2,758.7 C1077.57,761.32 1096.27,764.73 1112.3,767.5 C1128.33,770.27 1147.03,772.8 1160.4,775.3 C1173.77,777.8 1184.23,780.22 1192.5,782.5 C1200.77,784.78 1204.2,786.08 1210,789 C1215.8,791.92 1221.92,794.83 1227.3,800 C1232.68,805.17 1238.23,812.78 1242.3,820 C1246.37,827.22 1249.05,834.73 1251.7,843.3 C1254.35,851.87 1256.65,863.13 1258.2,871.4 C1259.75,879.67 1260.53,889.32 1261,892.9" fill="none" stroke="#22dcdc" stroke-width="3.5" stroke-linejoin="round" stroke-linecap="round"/>
<path d="M870,671.1 C870.67,672.77 871.32,677.6 874,681.1 C876.68,684.6 880.75,688.42 886.1,692.1 C891.45,695.78 899.42,699.68 906.1,703.2 C912.78,706.72 918.38,709.15 926.2,713.2 C934.02,717.25 945.32,723.45 953,727.5 C960.68,731.55 966.13,734.42 972.3,737.5 C978.47,740.58 983.77,743.25 990,746 C996.23,748.75 1002.68,751.25 1009.7,754 C1016.72,756.75 1023.02,759.83 1032.1,762.5 C1041.18,765.17 1053.5,767.82 1064.2,770 C1074.9,772.18 1085.6,773.73 1096.3,775.6 C1107,777.47 1117.72,779.2 1128.4,781.2 C1139.08,783.2 1150.78,784.8 1160.4,787.6 C1170.02,790.4 1178.68,793.4 1186.1,798 C1193.52,802.6 1199.58,809.2 1204.9,815.2 C1210.22,821.2 1213.95,826.2 1218,834 C1222.05,841.8 1225.77,852.18 1229.2,862 C1232.63,871.82 1237.03,887.75 1238.6,892.9" fill="none" stroke="#ff5010" stroke-width="3.5" stroke-linejoin="round" stroke-linecap="round"/>
<rect x="869" y="612.5" width="536.5" height="373.6" fill="none" stroke="#000" stroke-width="1.9"/>
<line x1="869" y1="986.1" x2="869" y2="993.1" stroke="#000" stroke-width="1.9"/>
<text x="869" y="1022.2" font-size="28.8" text-anchor="middle" font-weight="normal" fill="#000">0</text>
<line x1="999.85" y1="986.1" x2="999.85" y2="993.1" stroke="#000" stroke-width="1.9"/>
<text x="999.85" y="1022.2" font-size="28.8" text-anchor="middle" font-weight="normal" fill="#000">50</text>
<line x1="1130.71" y1="986.1" x2="1130.71" y2="993.1" stroke="#000" stroke-width="1.9"/>
<text x="1130.71" y="1022.2" font-size="28.8" text-anchor="middle" font-weight="normal" fill="#000">100</text>
<line x1="1261.56" y1="986.1" x2="1261.56" y2="993.1" stroke="#000" stroke-width="1.9"/>
<text x="1261.56" y="1022.2" font-size="28.8" text-anchor="middle" font-weight="normal" fill="#000">150</text>
<line x1="1392.41" y1="986.1" x2="1392.41" y2="993.1" stroke="#000" stroke-width="1.9"/>
<text x="1392.41" y="1022.2" font-size="28.8" text-anchor="middle" font-weight="normal" fill="#000">200</text>
<line x1="934.43" y1="986.1" x2="934.43" y2="989.6" stroke="#000" stroke-width="1.9"/>
<line x1="1065.28" y1="986.1" x2="1065.28" y2="989.6" stroke="#000" stroke-width="1.9"/>
<line x1="1196.13" y1="986.1" x2="1196.13" y2="989.6" stroke="#000" stroke-width="1.9"/>
<line x1="1326.99" y1="986.1" x2="1326.99" y2="989.6" stroke="#000" stroke-width="1.9"/>
<line x1="869" y1="986.1" x2="862" y2="986.1" stroke="#000" stroke-width="1.9"/>
<text x="856.5" y="994.6" font-size="28.8" text-anchor="end" font-weight="normal" fill="#000">2.5</text>
<line x1="869" y1="892.7" x2="862" y2="892.7" stroke="#000" stroke-width="1.9"/>
<text x="856.5" y="901.2" font-size="28.8" text-anchor="end" font-weight="normal" fill="#000">3.0</text>
<line x1="869" y1="799.3" x2="862" y2="799.3" stroke="#000" stroke-width="1.9"/>
<text x="856.5" y="807.8" font-size="28.8" text-anchor="end" font-weight="normal" fill="#000">3.5</text>
<line x1="869" y1="705.9" x2="862" y2="705.9" stroke="#000" stroke-width="1.9"/>
<text x="856.5" y="714.4" font-size="28.8" text-anchor="end" font-weight="normal" fill="#000">4.0</text>
<line x1="869" y1="612.5" x2="862" y2="612.5" stroke="#000" stroke-width="1.9"/>
<text x="856.5" y="621" font-size="28.8" text-anchor="end" font-weight="normal" fill="#000">4.5</text>
<line x1="869" y1="939.4" x2="865.5" y2="939.4" stroke="#000" stroke-width="1.9"/>
<line x1="869" y1="846" x2="865.5" y2="846" stroke="#000" stroke-width="1.9"/>
<line x1="869" y1="752.6" x2="865.5" y2="752.6" stroke="#000" stroke-width="1.9"/>
<line x1="869" y1="659.2" x2="865.5" y2="659.2" stroke="#000" stroke-width="1.9"/>
<text x="803.6" y="780.5" font-size="30" text-anchor="middle" font-weight="normal" fill="#000" transform="rotate(-90 803.6 780.5)">Voltage (V versus Li<tspan dy="-18" font-size="23">+</tspan><tspan dy="18">/Li)</tspan></text>
<text x="1138.25" y="1062.6" font-size="29.5" text-anchor="middle" font-weight="normal" fill="#000">Specific capacity (mAh g<tspan dy="-14.5" font-size="20.5">&#8722;1</tspan><tspan dy="14.5" dx="2.5">)</tspan></text>
<text x="914.4" y="653.4" font-size="31" text-anchor="start" font-weight="normal" fill="#000">AFE</text>
<line x1="897.2" y1="826.8" x2="938.5" y2="826.8" stroke="#000000" stroke-width="3.6" stroke-linecap="round"/>
<text x="946" y="832.9" font-size="25.9" style="white-space:pre">1 st  0.1C</text>
<line x1="897.2" y1="859.9" x2="938.5" y2="859.9" stroke="#3ba3f2" stroke-width="3.6" stroke-linecap="round"/>
<text x="946" y="866" font-size="25.9" style="white-space:pre">5 th  0.5C</text>
<line x1="897.2" y1="891.8" x2="938.5" y2="891.8" stroke="#0b6ea6" stroke-width="3.6" stroke-linecap="round"/>
<text x="946" y="897.9" font-size="25.9" style="white-space:pre">10 th 0.5C</text>
<line x1="897.2" y1="923.4" x2="938.5" y2="923.4" stroke="#22dcdc" stroke-width="3.6" stroke-linecap="round"/>
<text x="946" y="929.5" font-size="25.9" style="white-space:pre">20 th 0.5C</text>
<line x1="897.2" y1="955.3" x2="938.5" y2="955.3" stroke="#ff5010" stroke-width="3.6" stroke-linecap="round"/>
<text x="946" y="961.4" font-size="25.9" style="white-space:pre">50 th 0.5C</text>
<text x="13.4" y="1121.5" font-size="63" text-anchor="start" font-weight="bold" fill="#000">d</text>
<polyline points="200.5,1217.31 209.5,1220.42 218.5,1223.7 227.5,1225.78 236.5,1228.02 281.5,1232.35 371.5,1240.82 461.5,1249.46 488.5,1250.5 497.5,1251.54 506.5,1252.57 515.5,1254.3 524.5,1255.86 533.5,1256.9 542.5,1255.86 551.5,1258.62 560.5,1255.86 569.5,1260.18 578.5,1261.22 587.5,1262.25 596.5,1262.95 605.5,1263.81 614.5,1265.54 623.5,1265.89 632.5,1267.61 641.5,1269.86 650.5,1270.9 659.5,1272.97 668.5,1277.3 677.5,1279.37 686.5,1283.69 695.5,1287.84 704.5,1293.72 713.5,1300.63 722.5,1308.59 731.5,1317.75 740.5,1328.47 749.5,1339.19 758.5,1358.55 767.5,1387.77" fill="none" stroke="#3aa8f5" stroke-width="0.8" opacity="0.6"/>
<circle cx="200.5" cy="1223.09" r="6.6" fill="url(#gO)"/>
<circle cx="209.5" cy="1221.3" r="6.6" fill="url(#gO)"/>
<circle cx="218.5" cy="1220.58" r="6.6" fill="url(#gO)"/>
<circle cx="227.5" cy="1221.96" r="6.6" fill="url(#gO)"/>
<circle cx="236.5" cy="1222.89" r="6.6" fill="url(#gO)"/>
<circle cx="245.5" cy="1223.43" r="6.6" fill="url(#gO)"/>
<circle cx="254.5" cy="1224.05" r="6.6" fill="url(#gO)"/>
<circle cx="263.5" cy="1225.14" r="6.6" fill="url(#gO)"/>
<circle cx="272.5" cy="1225.81" r="6.6" fill="url(#gO)"/>
<circle cx="281.5" cy="1226.41" r="6.6" fill="url(#gO)"/>
<circle cx="290.5" cy="1226.72" r="6.6" fill="url(#gO)"/>
<circle cx="299.5" cy="1227.58" r="6.6" fill="url(#gO)"/>
<circle cx="308.5" cy="1227.87" r="6.6" fill="url(#gO)"/>
<circle cx="317.5" cy="1227.89" r="6.6" fill="url(#gO)"/>
<circle cx="326.5" cy="1228.3" r="6.6" fill="url(#gO)"/>
<circle cx="335.5" cy="1229.06" r="6.6" fill="url(#gO)"/>
<circle cx="344.5" cy="1229.52" r="6.6" fill="url(#gO)"/>
<circle cx="353.5" cy="1230.1" r="6.6" fill="url(#gO)"/>
<circle cx="362.5" cy="1230.96" r="6.6" fill="url(#gO)"/>
<circle cx="371.5" cy="1231.54" r="6.6" fill="url(#gO)"/>
<circle cx="380.5" cy="1232.16" r="6.6" fill="url(#gO)"/>
<circle cx="389.5" cy="1231.99" r="6.6" fill="url(#gO)"/>
<circle cx="398.5" cy="1232.78" r="6.6" fill="url(#gO)"/>
<circle cx="407.5" cy="1233.16" r="6.6" fill="url(#gO)"/>
<circle cx="416.5" cy="1234.58" r="6.6" fill="url(#gO)"/>
<circle cx="425.5" cy="1234.65" r="6.6" fill="url(#gO)"/>
<circle cx="434.5" cy="1235.39" r="6.6" fill="url(#gO)"/>
<circle cx="443.5" cy="1235.78" r="6.6" fill="url(#gO)"/>
<circle cx="452.5" cy="1236.74" r="6.6" fill="url(#gO)"/>
<circle cx="461.5" cy="1236.76" r="6.6" fill="url(#gO)"/>
<circle cx="470.5" cy="1238.2" r="6.6" fill="url(#gO)"/>
<circle cx="479.5" cy="1238.44" r="6.6" fill="url(#gO)"/>
<circle cx="488.5" cy="1238.93" r="6.6" fill="url(#gO)"/>
<circle cx="497.5" cy="1239.43" r="6.6" fill="url(#gO)"/>
<circle cx="506.5" cy="1240" r="6.6" fill="url(#gO)"/>
<circle cx="515.5" cy="1240.46" r="6.6" fill="url(#gO)"/>
<circle cx="524.5" cy="1240.82" r="6.6" fill="url(#gO)"/>
<circle cx="533.5" cy="1241.14" r="6.6" fill="url(#gO)"/>
<circle cx="542.5" cy="1242.06" r="6.6" fill="url(#gO)"/>
<circle cx="551.5" cy="1242.2" r="6.6" fill="url(#gO)"/>
<circle cx="560.5" cy="1242.44" r="6.6" fill="url(#gO)"/>
<circle cx="569.5" cy="1242.89" r="6.6" fill="url(#gO)"/>
<circle cx="578.5" cy="1243.72" r="6.6" fill="url(#gO)"/>
<circle cx="587.5" cy="1243.82" r="6.6" fill="url(#gO)"/>
<circle cx="596.5" cy="1244.19" r="6.6" fill="url(#gO)"/>
<circle cx="605.5" cy="1244.87" r="6.6" fill="url(#gO)"/>
<circle cx="614.5" cy="1245.25" r="6.6" fill="url(#gO)"/>
<circle cx="623.5" cy="1245.89" r="6.6" fill="url(#gO)"/>
<circle cx="632.5" cy="1246.15" r="6.6" fill="url(#gO)"/>
<circle cx="641.5" cy="1246.56" r="6.6" fill="url(#gO)"/>
<circle cx="650.5" cy="1247.44" r="6.6" fill="url(#gO)"/>
<circle cx="659.5" cy="1247.39" r="6.6" fill="url(#gO)"/>
<circle cx="668.5" cy="1247.51" r="6.6" fill="url(#gO)"/>
<circle cx="677.5" cy="1248.04" r="6.6" fill="url(#gO)"/>
<circle cx="686.5" cy="1248.6" r="6.6" fill="url(#gO)"/>
<circle cx="695.5" cy="1249.32" r="6.6" fill="url(#gO)"/>
<circle cx="704.5" cy="1249.45" r="6.6" fill="url(#gO)"/>
<circle cx="713.5" cy="1250.02" r="6.6" fill="url(#gO)"/>
<circle cx="722.5" cy="1250.57" r="6.6" fill="url(#gO)"/>
<circle cx="731.5" cy="1250.65" r="6.6" fill="url(#gO)"/>
<circle cx="740.5" cy="1251.73" r="6.6" fill="url(#gO)"/>
<circle cx="749.5" cy="1251.59" r="6.6" fill="url(#gO)"/>
<circle cx="758.5" cy="1252.64" r="6.6" fill="url(#gO)"/>
<circle cx="767.5" cy="1252.58" r="6.6" fill="url(#gO)"/>
<circle cx="776.5" cy="1253.11" r="6.6" fill="url(#gO)"/>
<circle cx="785.5" cy="1253.9" r="6.6" fill="url(#gO)"/>
<circle cx="794.5" cy="1254.07" r="6.6" fill="url(#gO)"/>
<circle cx="803.5" cy="1254.82" r="6.6" fill="url(#gO)"/>
<circle cx="812.5" cy="1255.24" r="6.6" fill="url(#gO)"/>
<circle cx="821.5" cy="1255.49" r="6.6" fill="url(#gO)"/>
<circle cx="830.5" cy="1256.59" r="6.6" fill="url(#gO)"/>
<circle cx="839.5" cy="1257.32" r="6.6" fill="url(#gO)"/>
<circle cx="848.5" cy="1257.59" r="6.6" fill="url(#gO)"/>
<circle cx="857.5" cy="1257.78" r="6.6" fill="url(#gO)"/>
<circle cx="866.5" cy="1258.71" r="6.6" fill="url(#gO)"/>
<circle cx="875.5" cy="1259.26" r="6.6" fill="url(#gO)"/>
<circle cx="884.5" cy="1259.14" r="6.6" fill="url(#gO)"/>
<circle cx="893.5" cy="1259.87" r="6.6" fill="url(#gO)"/>
<circle cx="902.5" cy="1260.58" r="6.6" fill="url(#gO)"/>
<circle cx="911.5" cy="1260.71" r="6.6" fill="url(#gO)"/>
<circle cx="920.5" cy="1261.71" r="6.6" fill="url(#gO)"/>
<circle cx="929.5" cy="1261.94" r="6.6" fill="url(#gO)"/>
<circle cx="938.5" cy="1262.86" r="6.6" fill="url(#gO)"/>
<circle cx="947.5" cy="1263.18" r="6.6" fill="url(#gO)"/>
<circle cx="956.5" cy="1263.37" r="6.6" fill="url(#gO)"/>
<circle cx="965.5" cy="1263.8" r="6.6" fill="url(#gO)"/>
<circle cx="974.5" cy="1264.35" r="6.6" fill="url(#gO)"/>
<circle cx="983.5" cy="1265.29" r="6.6" fill="url(#gO)"/>
<circle cx="992.5" cy="1265.64" r="6.6" fill="url(#gO)"/>
<circle cx="1001.5" cy="1266.39" r="6.6" fill="url(#gO)"/>
<circle cx="1010.5" cy="1267.06" r="6.6" fill="url(#gO)"/>
<circle cx="1019.5" cy="1267.27" r="6.6" fill="url(#gO)"/>
<circle cx="1028.5" cy="1267.5" r="6.6" fill="url(#gO)"/>
<circle cx="1037.5" cy="1268" r="6.6" fill="url(#gO)"/>
<circle cx="1046.5" cy="1268.64" r="6.6" fill="url(#gO)"/>
<circle cx="1055.5" cy="1268.95" r="6.6" fill="url(#gO)"/>
<circle cx="1064.5" cy="1270.05" r="6.6" fill="url(#gO)"/>
<circle cx="1073.5" cy="1270.67" r="6.6" fill="url(#gO)"/>
<circle cx="1082.5" cy="1270.94" r="6.6" fill="url(#gO)"/>
<circle cx="1091.5" cy="1271.61" r="6.6" fill="url(#gO)"/>
<circle cx="1100.5" cy="1272.18" r="6.6" fill="url(#gO)"/>
<circle cx="1109.5" cy="1272.18" r="6.6" fill="url(#gO)"/>
<circle cx="1118.5" cy="1272.17" r="6.6" fill="url(#gO)"/>
<circle cx="1127.5" cy="1272.96" r="6.6" fill="url(#gO)"/>
<circle cx="1136.5" cy="1273.79" r="6.6" fill="url(#gO)"/>
<circle cx="1145.5" cy="1274.01" r="6.6" fill="url(#gO)"/>
<circle cx="1154.5" cy="1274.56" r="6.6" fill="url(#gO)"/>
<circle cx="1163.5" cy="1275.7" r="6.6" fill="url(#gO)"/>
<circle cx="1172.5" cy="1276.7" r="6.6" fill="url(#gO)"/>
<circle cx="1181.5" cy="1277.41" r="6.6" fill="url(#gO)"/>
<circle cx="1190.5" cy="1277.36" r="6.6" fill="url(#gO)"/>
<circle cx="1199.5" cy="1278.75" r="6.6" fill="url(#gO)"/>
<circle cx="1208.5" cy="1278.85" r="6.6" fill="url(#gO)"/>
<circle cx="1217.5" cy="1279.64" r="6.6" fill="url(#gO)"/>
<circle cx="1226.5" cy="1280.54" r="6.6" fill="url(#gO)"/>
<circle cx="1235.5" cy="1280.8" r="6.6" fill="url(#gO)"/>
<circle cx="1244.5" cy="1282.14" r="6.6" fill="url(#gO)"/>
<circle cx="1253.5" cy="1282.72" r="6.6" fill="url(#gO)"/>
<circle cx="1262.5" cy="1283.12" r="6.6" fill="url(#gO)"/>
<circle cx="1271.5" cy="1284.16" r="6.6" fill="url(#gO)"/>
<circle cx="1280.5" cy="1284.14" r="6.6" fill="url(#gO)"/>
<circle cx="1289.5" cy="1285.33" r="6.6" fill="url(#gO)"/>
<circle cx="1298.5" cy="1286.09" r="6.6" fill="url(#gO)"/>
<circle cx="1307.5" cy="1286.84" r="6.6" fill="url(#gO)"/>
<circle cx="1316.5" cy="1287.02" r="6.6" fill="url(#gO)"/>
<circle cx="1325.5" cy="1287.85" r="6.6" fill="url(#gO)"/>
<circle cx="1334.5" cy="1288.36" r="6.6" fill="url(#gO)"/>
<circle cx="1343.5" cy="1289.02" r="6.6" fill="url(#gO)"/>
<circle cx="1352.5" cy="1289.56" r="6.6" fill="url(#gO)"/>
<circle cx="1361.5" cy="1290.1" r="6.6" fill="url(#gO)"/>
<circle cx="1370.5" cy="1291.02" r="6.6" fill="url(#gO)"/>
<circle cx="1379.5" cy="1292.11" r="6.6" fill="url(#gO)"/>
<circle cx="1388.5" cy="1292.55" r="6.6" fill="url(#gO)"/>
<circle cx="1397.5" cy="1293.48" r="6.6" fill="url(#gO)"/>
<circle cx="200.5" cy="1217.31" r="6.6" fill="url(#gB)"/>
<circle cx="209.5" cy="1220.42" r="6.6" fill="url(#gB)"/>
<circle cx="218.5" cy="1223.7" r="6.6" fill="url(#gB)"/>
<circle cx="227.5" cy="1225.78" r="6.6" fill="url(#gB)"/>
<circle cx="236.5" cy="1228.02" r="6.6" fill="url(#gB)"/>
<circle cx="245.5" cy="1228.89" r="6.6" fill="url(#gB)"/>
<circle cx="254.5" cy="1229.75" r="6.6" fill="url(#gB)"/>
<circle cx="263.5" cy="1230.62" r="6.6" fill="url(#gB)"/>
<circle cx="272.5" cy="1231.48" r="6.6" fill="url(#gB)"/>
<circle cx="281.5" cy="1232.35" r="6.6" fill="url(#gB)"/>
<circle cx="290.5" cy="1233.19" r="6.6" fill="url(#gB)"/>
<circle cx="299.5" cy="1234.04" r="6.6" fill="url(#gB)"/>
<circle cx="308.5" cy="1234.89" r="6.6" fill="url(#gB)"/>
<circle cx="317.5" cy="1235.74" r="6.6" fill="url(#gB)"/>
<circle cx="326.5" cy="1236.58" r="6.6" fill="url(#gB)"/>
<circle cx="335.5" cy="1237.43" r="6.6" fill="url(#gB)"/>
<circle cx="344.5" cy="1238.28" r="6.6" fill="url(#gB)"/>
<circle cx="353.5" cy="1239.12" r="6.6" fill="url(#gB)"/>
<circle cx="362.5" cy="1239.97" r="6.6" fill="url(#gB)"/>
<circle cx="371.5" cy="1240.82" r="6.6" fill="url(#gB)"/>
<circle cx="380.5" cy="1241.68" r="6.6" fill="url(#gB)"/>
<circle cx="389.5" cy="1242.55" r="6.6" fill="url(#gB)"/>
<circle cx="398.5" cy="1243.41" r="6.6" fill="url(#gB)"/>
<circle cx="407.5" cy="1244.28" r="6.6" fill="url(#gB)"/>
<circle cx="416.5" cy="1245.14" r="6.6" fill="url(#gB)"/>
<circle cx="425.5" cy="1246" r="6.6" fill="url(#gB)"/>
<circle cx="434.5" cy="1246.87" r="6.6" fill="url(#gB)"/>
<circle cx="443.5" cy="1247.73" r="6.6" fill="url(#gB)"/>
<circle cx="452.5" cy="1248.6" r="6.6" fill="url(#gB)"/>
<circle cx="461.5" cy="1249.46" r="6.6" fill="url(#gB)"/>
<circle cx="470.5" cy="1249.81" r="6.6" fill="url(#gB)"/>
<circle cx="479.5" cy="1250.15" r="6.6" fill="url(#gB)"/>
<circle cx="488.5" cy="1250.5" r="6.6" fill="url(#gB)"/>
<circle cx="497.5" cy="1251.54" r="6.6" fill="url(#gB)"/>
<circle cx="506.5" cy="1252.57" r="6.6" fill="url(#gB)"/>
<circle cx="515.5" cy="1254.3" r="6.6" fill="url(#gB)"/>
<circle cx="524.5" cy="1255.86" r="6.6" fill="url(#gB)"/>
<circle cx="533.5" cy="1256.9" r="6.6" fill="url(#gB)"/>
<circle cx="542.5" cy="1255.86" r="6.6" fill="url(#gB)"/>
<circle cx="551.5" cy="1258.62" r="6.6" fill="url(#gB)"/>
<circle cx="560.5" cy="1255.86" r="6.6" fill="url(#gB)"/>
<circle cx="569.5" cy="1260.18" r="6.6" fill="url(#gB)"/>
<circle cx="578.5" cy="1261.22" r="6.6" fill="url(#gB)"/>
<circle cx="587.5" cy="1262.25" r="6.6" fill="url(#gB)"/>
<circle cx="596.5" cy="1262.95" r="6.6" fill="url(#gB)"/>
<circle cx="605.5" cy="1263.81" r="6.6" fill="url(#gB)"/>
<circle cx="614.5" cy="1265.54" r="6.6" fill="url(#gB)"/>
<circle cx="623.5" cy="1265.89" r="6.6" fill="url(#gB)"/>
<circle cx="632.5" cy="1267.61" r="6.6" fill="url(#gB)"/>
<circle cx="641.5" cy="1269.86" r="6.6" fill="url(#gB)"/>
<circle cx="650.5" cy="1270.9" r="6.6" fill="url(#gB)"/>
<circle cx="659.5" cy="1272.97" r="6.6" fill="url(#gB)"/>
<circle cx="668.5" cy="1277.3" r="6.6" fill="url(#gB)"/>
<circle cx="677.5" cy="1279.37" r="6.6" fill="url(#gB)"/>
<circle cx="686.5" cy="1283.69" r="6.6" fill="url(#gB)"/>
<circle cx="695.5" cy="1287.84" r="6.6" fill="url(#gB)"/>
<circle cx="704.5" cy="1293.72" r="6.6" fill="url(#gB)"/>
<circle cx="713.5" cy="1300.63" r="6.6" fill="url(#gB)"/>
<circle cx="722.5" cy="1308.59" r="6.6" fill="url(#gB)"/>
<circle cx="731.5" cy="1317.75" r="6.6" fill="url(#gB)"/>
<circle cx="740.5" cy="1328.47" r="6.6" fill="url(#gB)"/>
<circle cx="749.5" cy="1339.19" r="6.6" fill="url(#gB)"/>
<circle cx="758.5" cy="1358.55" r="6.6" fill="url(#gB)"/>
<circle cx="767.5" cy="1387.77" r="6.6" fill="url(#gB)"/>
<circle cx="209.5" cy="1171.85" r="6.6" fill="#fff" stroke="#ff5a14" stroke-width="1.3"/>
<circle cx="218.5" cy="1167.14" r="6.6" fill="#fff" stroke="#ff5a14" stroke-width="1.3"/>
<circle cx="227.5" cy="1165.32" r="6.6" fill="#fff" stroke="#ff5a14" stroke-width="1.3"/>
<circle cx="236.5" cy="1169.76" r="6.6" fill="#fff" stroke="#ff5a14" stroke-width="1.3"/>
<circle cx="245.5" cy="1172.16" r="6.6" fill="#fff" stroke="#ff5a14" stroke-width="1.3"/>
<circle cx="254.5" cy="1168.44" r="6.6" fill="#fff" stroke="#ff5a14" stroke-width="1.3"/>
<circle cx="263.5" cy="1166.84" r="6.6" fill="#fff" stroke="#ff5a14" stroke-width="1.3"/>
<circle cx="272.5" cy="1165.02" r="6.6" fill="#fff" stroke="#ff5a14" stroke-width="1.3"/>
<circle cx="281.5" cy="1171.83" r="6.6" fill="#fff" stroke="#ff5a14" stroke-width="1.3"/>
<circle cx="290.5" cy="1172.05" r="6.6" fill="#fff" stroke="#ff5a14" stroke-width="1.3"/>
<circle cx="299.5" cy="1166.17" r="6.6" fill="#fff" stroke="#ff5a14" stroke-width="1.3"/>
<circle cx="308.5" cy="1166.85" r="6.6" fill="#fff" stroke="#ff5a14" stroke-width="1.3"/>
<circle cx="317.5" cy="1163.73" r="6.6" fill="#fff" stroke="#ff5a14" stroke-width="1.3"/>
<circle cx="326.5" cy="1165.36" r="6.6" fill="#fff" stroke="#ff5a14" stroke-width="1.3"/>
<circle cx="335.5" cy="1168.55" r="6.6" fill="#fff" stroke="#ff5a14" stroke-width="1.3"/>
<circle cx="344.5" cy="1169.06" r="6.6" fill="#fff" stroke="#ff5a14" stroke-width="1.3"/>
<circle cx="353.5" cy="1160.68" r="6.6" fill="#fff" stroke="#ff5a14" stroke-width="1.3"/>
<circle cx="362.5" cy="1169.1" r="6.6" fill="#fff" stroke="#ff5a14" stroke-width="1.3"/>
<circle cx="371.5" cy="1170.56" r="6.6" fill="#fff" stroke="#ff5a14" stroke-width="1.3"/>
<circle cx="380.5" cy="1171.6" r="6.6" fill="#fff" stroke="#ff5a14" stroke-width="1.3"/>
<circle cx="389.5" cy="1167.97" r="6.6" fill="#fff" stroke="#ff5a14" stroke-width="1.3"/>
<circle cx="398.5" cy="1167.82" r="6.6" fill="#fff" stroke="#ff5a14" stroke-width="1.3"/>
<circle cx="407.5" cy="1169.26" r="6.6" fill="#fff" stroke="#ff5a14" stroke-width="1.3"/>
<circle cx="416.5" cy="1168.43" r="6.6" fill="#fff" stroke="#ff5a14" stroke-width="1.3"/>
<circle cx="425.5" cy="1167.44" r="6.6" fill="#fff" stroke="#ff5a14" stroke-width="1.3"/>
<circle cx="434.5" cy="1166.21" r="6.6" fill="#fff" stroke="#ff5a14" stroke-width="1.3"/>
<circle cx="443.5" cy="1165.02" r="6.6" fill="#fff" stroke="#ff5a14" stroke-width="1.3"/>
<circle cx="452.5" cy="1167.63" r="6.6" fill="#fff" stroke="#ff5a14" stroke-width="1.3"/>
<circle cx="461.5" cy="1173.52" r="6.6" fill="#fff" stroke="#ff5a14" stroke-width="1.3"/>
<circle cx="470.5" cy="1166.18" r="6.6" fill="#fff" stroke="#ff5a14" stroke-width="1.3"/>
<circle cx="479.5" cy="1172.43" r="6.6" fill="#fff" stroke="#ff5a14" stroke-width="1.3"/>
<circle cx="488.5" cy="1168.75" r="6.6" fill="#fff" stroke="#ff5a14" stroke-width="1.3"/>
<circle cx="497.5" cy="1172.59" r="6.6" fill="#fff" stroke="#ff5a14" stroke-width="1.3"/>
<circle cx="506.5" cy="1168.24" r="6.6" fill="#fff" stroke="#ff5a14" stroke-width="1.3"/>
<circle cx="515.5" cy="1170.54" r="6.6" fill="#fff" stroke="#ff5a14" stroke-width="1.3"/>
<circle cx="524.5" cy="1167.62" r="6.6" fill="#fff" stroke="#ff5a14" stroke-width="1.3"/>
<circle cx="533.5" cy="1160.07" r="6.6" fill="#fff" stroke="#ff5a14" stroke-width="1.3"/>
<circle cx="542.5" cy="1168.39" r="6.6" fill="#fff" stroke="#ff5a14" stroke-width="1.3"/>
<circle cx="551.5" cy="1165.77" r="6.6" fill="#fff" stroke="#ff5a14" stroke-width="1.3"/>
<circle cx="560.5" cy="1172.14" r="6.6" fill="#fff" stroke="#ff5a14" stroke-width="1.3"/>
<circle cx="569.5" cy="1169.1" r="6.6" fill="#fff" stroke="#ff5a14" stroke-width="1.3"/>
<circle cx="578.5" cy="1166.3" r="6.6" fill="#fff" stroke="#ff5a14" stroke-width="1.3"/>
<circle cx="587.5" cy="1168.52" r="6.6" fill="#fff" stroke="#ff5a14" stroke-width="1.3"/>
<circle cx="596.5" cy="1167.16" r="6.6" fill="#fff" stroke="#ff5a14" stroke-width="1.3"/>
<circle cx="605.5" cy="1167.94" r="6.6" fill="#fff" stroke="#ff5a14" stroke-width="1.3"/>
<circle cx="614.5" cy="1171.21" r="6.6" fill="#fff" stroke="#ff5a14" stroke-width="1.3"/>
<circle cx="623.5" cy="1166.59" r="6.6" fill="#fff" stroke="#ff5a14" stroke-width="1.3"/>
<circle cx="632.5" cy="1170.64" r="6.6" fill="#fff" stroke="#ff5a14" stroke-width="1.3"/>
<circle cx="641.5" cy="1162.74" r="6.6" fill="#fff" stroke="#ff5a14" stroke-width="1.3"/>
<circle cx="650.5" cy="1169.73" r="6.6" fill="#fff" stroke="#ff5a14" stroke-width="1.3"/>
<circle cx="659.5" cy="1166.23" r="6.6" fill="#fff" stroke="#ff5a14" stroke-width="1.3"/>
<circle cx="668.5" cy="1168.24" r="6.6" fill="#fff" stroke="#ff5a14" stroke-width="1.3"/>
<circle cx="677.5" cy="1165.44" r="6.6" fill="#fff" stroke="#ff5a14" stroke-width="1.3"/>
<circle cx="686.5" cy="1170.02" r="6.6" fill="#fff" stroke="#ff5a14" stroke-width="1.3"/>
<circle cx="695.5" cy="1165.31" r="6.6" fill="#fff" stroke="#ff5a14" stroke-width="1.3"/>
<circle cx="704.5" cy="1168.61" r="6.6" fill="#fff" stroke="#ff5a14" stroke-width="1.3"/>
<circle cx="713.5" cy="1164.53" r="6.6" fill="#fff" stroke="#ff5a14" stroke-width="1.3"/>
<circle cx="722.5" cy="1166.41" r="6.6" fill="#fff" stroke="#ff5a14" stroke-width="1.3"/>
<circle cx="731.5" cy="1167.83" r="6.6" fill="#fff" stroke="#ff5a14" stroke-width="1.3"/>
<circle cx="740.5" cy="1170.54" r="6.6" fill="#fff" stroke="#ff5a14" stroke-width="1.3"/>
<circle cx="749.5" cy="1165.99" r="6.6" fill="#fff" stroke="#ff5a14" stroke-width="1.3"/>
<circle cx="758.5" cy="1166.87" r="6.6" fill="#fff" stroke="#ff5a14" stroke-width="1.3"/>
<circle cx="767.5" cy="1163.42" r="6.6" fill="#fff" stroke="#ff5a14" stroke-width="1.3"/>
<circle cx="776.5" cy="1169.36" r="6.6" fill="#fff" stroke="#ff5a14" stroke-width="1.3"/>
<circle cx="785.5" cy="1166.62" r="6.6" fill="#fff" stroke="#ff5a14" stroke-width="1.3"/>
<circle cx="794.5" cy="1166.75" r="6.6" fill="#fff" stroke="#ff5a14" stroke-width="1.3"/>
<circle cx="803.5" cy="1167.42" r="6.6" fill="#fff" stroke="#ff5a14" stroke-width="1.3"/>
<circle cx="812.5" cy="1167.63" r="6.6" fill="#fff" stroke="#ff5a14" stroke-width="1.3"/>
<circle cx="821.5" cy="1167.71" r="6.6" fill="#fff" stroke="#ff5a14" stroke-width="1.3"/>
<circle cx="830.5" cy="1170.01" r="6.6" fill="#fff" stroke="#ff5a14" stroke-width="1.3"/>
<circle cx="839.5" cy="1171.23" r="6.6" fill="#fff" stroke="#ff5a14" stroke-width="1.3"/>
<circle cx="848.5" cy="1169.41" r="6.6" fill="#fff" stroke="#ff5a14" stroke-width="1.3"/>
<circle cx="857.5" cy="1166.51" r="6.6" fill="#fff" stroke="#ff5a14" stroke-width="1.3"/>
<circle cx="866.5" cy="1163.8" r="6.6" fill="#fff" stroke="#ff5a14" stroke-width="1.3"/>
<circle cx="875.5" cy="1165.37" r="6.6" fill="#fff" stroke="#ff5a14" stroke-width="1.3"/>
<circle cx="884.5" cy="1165.15" r="6.6" fill="#fff" stroke="#ff5a14" stroke-width="1.3"/>
<circle cx="893.5" cy="1165.96" r="6.6" fill="#fff" stroke="#ff5a14" stroke-width="1.3"/>
<circle cx="902.5" cy="1166.19" r="6.6" fill="#fff" stroke="#ff5a14" stroke-width="1.3"/>
<circle cx="911.5" cy="1167.71" r="6.6" fill="#fff" stroke="#ff5a14" stroke-width="1.3"/>
<circle cx="920.5" cy="1165.98" r="6.6" fill="#fff" stroke="#ff5a14" stroke-width="1.3"/>
<circle cx="929.5" cy="1163.03" r="6.6" fill="#fff" stroke="#ff5a14" stroke-width="1.3"/>
<circle cx="938.5" cy="1169.21" r="6.6" fill="#fff" stroke="#ff5a14" stroke-width="1.3"/>
<circle cx="947.5" cy="1170.29" r="6.6" fill="#fff" stroke="#ff5a14" stroke-width="1.3"/>
<circle cx="956.5" cy="1162.48" r="6.6" fill="#fff" stroke="#ff5a14" stroke-width="1.3"/>
<circle cx="965.5" cy="1167.53" r="6.6" fill="#fff" stroke="#ff5a14" stroke-width="1.3"/>
<circle cx="974.5" cy="1165.39" r="6.6" fill="#fff" stroke="#ff5a14" stroke-width="1.3"/>
<circle cx="983.5" cy="1165.68" r="6.6" fill="#fff" stroke="#ff5a14" stroke-width="1.3"/>
<circle cx="992.5" cy="1171.59" r="6.6" fill="#fff" stroke="#ff5a14" stroke-width="1.3"/>
<circle cx="1001.5" cy="1161.09" r="6.6" fill="#fff" stroke="#ff5a14" stroke-width="1.3"/>
<circle cx="1010.5" cy="1163.02" r="6.6" fill="#fff" stroke="#ff5a14" stroke-width="1.3"/>
<circle cx="1019.5" cy="1167.73" r="6.6" fill="#fff" stroke="#ff5a14" stroke-width="1.3"/>
<circle cx="1028.5" cy="1166.03" r="6.6" fill="#fff" stroke="#ff5a14" stroke-width="1.3"/>
<circle cx="1037.5" cy="1167.87" r="6.6" fill="#fff" stroke="#ff5a14" stroke-width="1.3"/>
<circle cx="1046.5" cy="1170.85" r="6.6" fill="#fff" stroke="#ff5a14" stroke-width="1.3"/>
<circle cx="1055.5" cy="1168.58" r="6.6" fill="#fff" stroke="#ff5a14" stroke-width="1.3"/>
<circle cx="1064.5" cy="1167.15" r="6.6" fill="#fff" stroke="#ff5a14" stroke-width="1.3"/>
<circle cx="1073.5" cy="1164.96" r="6.6" fill="#fff" stroke="#ff5a14" stroke-width="1.3"/>
<circle cx="1082.5" cy="1166.16" r="6.6" fill="#fff" stroke="#ff5a14" stroke-width="1.3"/>
<circle cx="1091.5" cy="1168.07" r="6.6" fill="#fff" stroke="#ff5a14" stroke-width="1.3"/>
<circle cx="1100.5" cy="1164.26" r="6.6" fill="#fff" stroke="#ff5a14" stroke-width="1.3"/>
<circle cx="1109.5" cy="1170.49" r="6.6" fill="#fff" stroke="#ff5a14" stroke-width="1.3"/>
<circle cx="1118.5" cy="1165.91" r="6.6" fill="#fff" stroke="#ff5a14" stroke-width="1.3"/>
<circle cx="1127.5" cy="1164.97" r="6.6" fill="#fff" stroke="#ff5a14" stroke-width="1.3"/>
<circle cx="1136.5" cy="1169.11" r="6.6" fill="#fff" stroke="#ff5a14" stroke-width="1.3"/>
<circle cx="1145.5" cy="1173.52" r="6.6" fill="#fff" stroke="#ff5a14" stroke-width="1.3"/>
<circle cx="1154.5" cy="1170.92" r="6.6" fill="#fff" stroke="#ff5a14" stroke-width="1.3"/>
<circle cx="1163.5" cy="1167.55" r="6.6" fill="#fff" stroke="#ff5a14" stroke-width="1.3"/>
<circle cx="1172.5" cy="1166.69" r="6.6" fill="#fff" stroke="#ff5a14" stroke-width="1.3"/>
<circle cx="1181.5" cy="1163.69" r="6.6" fill="#fff" stroke="#ff5a14" stroke-width="1.3"/>
<circle cx="1190.5" cy="1171.2" r="6.6" fill="#fff" stroke="#ff5a14" stroke-width="1.3"/>
<circle cx="1199.5" cy="1168.24" r="6.6" fill="#fff" stroke="#ff5a14" stroke-width="1.3"/>
<circle cx="1208.5" cy="1166.34" r="6.6" fill="#fff" stroke="#ff5a14" stroke-width="1.3"/>
<circle cx="1217.5" cy="1168.71" r="6.6" fill="#fff" stroke="#ff5a14" stroke-width="1.3"/>
<circle cx="1226.5" cy="1175.22" r="6.6" fill="#fff" stroke="#ff5a14" stroke-width="1.3"/>
<circle cx="1235.5" cy="1165.87" r="6.6" fill="#fff" stroke="#ff5a14" stroke-width="1.3"/>
<circle cx="1244.5" cy="1161.44" r="6.6" fill="#fff" stroke="#ff5a14" stroke-width="1.3"/>
<circle cx="1253.5" cy="1165.29" r="6.6" fill="#fff" stroke="#ff5a14" stroke-width="1.3"/>
<circle cx="1262.5" cy="1170.95" r="6.6" fill="#fff" stroke="#ff5a14" stroke-width="1.3"/>
<circle cx="1271.5" cy="1169.46" r="6.6" fill="#fff" stroke="#ff5a14" stroke-width="1.3"/>
<circle cx="1280.5" cy="1167.6" r="6.6" fill="#fff" stroke="#ff5a14" stroke-width="1.3"/>
<circle cx="1289.5" cy="1160.92" r="6.6" fill="#fff" stroke="#ff5a14" stroke-width="1.3"/>
<circle cx="1298.5" cy="1166.43" r="6.6" fill="#fff" stroke="#ff5a14" stroke-width="1.3"/>
<circle cx="1307.5" cy="1167.91" r="6.6" fill="#fff" stroke="#ff5a14" stroke-width="1.3"/>
<circle cx="1316.5" cy="1163.66" r="6.6" fill="#fff" stroke="#ff5a14" stroke-width="1.3"/>
<circle cx="1325.5" cy="1168.49" r="6.6" fill="#fff" stroke="#ff5a14" stroke-width="1.3"/>
<circle cx="1334.5" cy="1162.77" r="6.6" fill="#fff" stroke="#ff5a14" stroke-width="1.3"/>
<circle cx="1343.5" cy="1170.26" r="6.6" fill="#fff" stroke="#ff5a14" stroke-width="1.3"/>
<circle cx="1352.5" cy="1169.65" r="6.6" fill="#fff" stroke="#ff5a14" stroke-width="1.3"/>
<circle cx="1361.5" cy="1166.13" r="6.6" fill="#fff" stroke="#ff5a14" stroke-width="1.3"/>
<circle cx="1370.5" cy="1164.06" r="6.6" fill="#fff" stroke="#ff5a14" stroke-width="1.3"/>
<circle cx="1379.5" cy="1166.32" r="6.6" fill="#fff" stroke="#ff5a14" stroke-width="1.3"/>
<circle cx="1388.5" cy="1167.36" r="6.6" fill="#fff" stroke="#ff5a14" stroke-width="1.3"/>
<circle cx="1397.5" cy="1173.61" r="6.6" fill="#fff" stroke="#ff5a14" stroke-width="1.3"/>
<circle cx="209.5" cy="1212.39" r="6.6" fill="#fff" stroke="#3aa8f5" stroke-width="1.3"/>
<circle cx="218.5" cy="1197.02" r="6.6" fill="#fff" stroke="#3aa8f5" stroke-width="1.3"/>
<circle cx="227.5" cy="1196.04" r="6.6" fill="#fff" stroke="#3aa8f5" stroke-width="1.3"/>
<circle cx="236.5" cy="1192.77" r="6.6" fill="#fff" stroke="#3aa8f5" stroke-width="1.3"/>
<circle cx="245.5" cy="1185.25" r="6.6" fill="#fff" stroke="#3aa8f5" stroke-width="1.3"/>
<circle cx="254.5" cy="1188.52" r="6.6" fill="#fff" stroke="#3aa8f5" stroke-width="1.3"/>
<circle cx="263.5" cy="1181" r="6.6" fill="#fff" stroke="#3aa8f5" stroke-width="1.3"/>
<circle cx="272.5" cy="1184.27" r="6.6" fill="#fff" stroke="#3aa8f5" stroke-width="1.3"/>
<circle cx="281.5" cy="1180.02" r="6.6" fill="#fff" stroke="#3aa8f5" stroke-width="1.3"/>
<circle cx="290.5" cy="1180.02" r="6.6" fill="#fff" stroke="#3aa8f5" stroke-width="1.3"/>
<circle cx="299.5" cy="1180.02" r="6.6" fill="#fff" stroke="#3aa8f5" stroke-width="1.3"/>
<circle cx="308.5" cy="1181" r="6.6" fill="#fff" stroke="#3aa8f5" stroke-width="1.3"/>
<circle cx="317.5" cy="1184.27" r="6.6" fill="#fff" stroke="#3aa8f5" stroke-width="1.3"/>
<circle cx="326.5" cy="1170.21" r="6.6" fill="#fff" stroke="#3aa8f5" stroke-width="1.3"/>
<circle cx="335.5" cy="1184.27" r="6.6" fill="#fff" stroke="#3aa8f5" stroke-width="1.3"/>
<circle cx="344.5" cy="1181" r="6.6" fill="#fff" stroke="#3aa8f5" stroke-width="1.3"/>
<circle cx="353.5" cy="1180.02" r="6.6" fill="#fff" stroke="#3aa8f5" stroke-width="1.3"/>
<circle cx="362.5" cy="1177.73" r="6.6" fill="#fff" stroke="#3aa8f5" stroke-width="1.3"/>
<circle cx="371.5" cy="1174.46" r="6.6" fill="#fff" stroke="#3aa8f5" stroke-width="1.3"/>
<circle cx="380.5" cy="1177.4" r="6.6" fill="#fff" stroke="#3aa8f5" stroke-width="1.3"/>
<circle cx="389.5" cy="1176.1" r="6.6" fill="#fff" stroke="#3aa8f5" stroke-width="1.3"/>
<circle cx="398.5" cy="1177.4" r="6.6" fill="#fff" stroke="#3aa8f5" stroke-width="1.3"/>
<circle cx="407.5" cy="1184.27" r="6.6" fill="#fff" stroke="#3aa8f5" stroke-width="1.3"/>
<circle cx="416.5" cy="1171.19" r="6.6" fill="#fff" stroke="#3aa8f5" stroke-width="1.3"/>
<circle cx="425.5" cy="1178.71" r="6.6" fill="#fff" stroke="#3aa8f5" stroke-width="1.3"/>
<circle cx="434.5" cy="1175.12" r="6.6" fill="#fff" stroke="#3aa8f5" stroke-width="1.3"/>
<circle cx="443.5" cy="1176.1" r="6.6" fill="#fff" stroke="#3aa8f5" stroke-width="1.3"/>
<circle cx="452.5" cy="1180.02" r="6.6" fill="#fff" stroke="#3aa8f5" stroke-width="1.3"/>
<circle cx="461.5" cy="1177.4" r="6.6" fill="#fff" stroke="#3aa8f5" stroke-width="1.3"/>
<circle cx="470.5" cy="1176.1" r="6.6" fill="#fff" stroke="#3aa8f5" stroke-width="1.3"/>
<circle cx="479.5" cy="1172.5" r="6.6" fill="#fff" stroke="#3aa8f5" stroke-width="1.3"/>
<circle cx="488.5" cy="1178.06" r="6.6" fill="#fff" stroke="#3aa8f5" stroke-width="1.3"/>
<circle cx="497.5" cy="1177.4" r="6.6" fill="#fff" stroke="#3aa8f5" stroke-width="1.3"/>
<circle cx="506.5" cy="1178.06" r="6.6" fill="#fff" stroke="#3aa8f5" stroke-width="1.3"/>
<circle cx="515.5" cy="1187.54" r="6.6" fill="#fff" stroke="#3aa8f5" stroke-width="1.3"/>
<circle cx="524.5" cy="1192.45" r="6.6" fill="#fff" stroke="#3aa8f5" stroke-width="1.3"/>
<circle cx="533.5" cy="1181" r="6.6" fill="#fff" stroke="#3aa8f5" stroke-width="1.3"/>
<circle cx="542.5" cy="1166.61" r="6.6" fill="#fff" stroke="#3aa8f5" stroke-width="1.3"/>
<circle cx="551.5" cy="1191.79" r="6.6" fill="#fff" stroke="#3aa8f5" stroke-width="1.3"/>
<circle cx="560.5" cy="1156.48" r="6.6" fill="#fff" stroke="#3aa8f5" stroke-width="1.3"/>
<circle cx="569.5" cy="1204.22" r="6.6" fill="#fff" stroke="#3aa8f5" stroke-width="1.3"/>
<circle cx="578.5" cy="1190.48" r="6.6" fill="#fff" stroke="#3aa8f5" stroke-width="1.3"/>
<circle cx="587.5" cy="1184.27" r="6.6" fill="#fff" stroke="#3aa8f5" stroke-width="1.3"/>
<circle cx="596.5" cy="1180.02" r="6.6" fill="#fff" stroke="#3aa8f5" stroke-width="1.3"/>
<circle cx="605.5" cy="1175.12" r="6.6" fill="#fff" stroke="#3aa8f5" stroke-width="1.3"/>
<circle cx="614.5" cy="1187.87" r="6.6" fill="#fff" stroke="#3aa8f5" stroke-width="1.3"/>
<circle cx="623.5" cy="1182.96" r="6.6" fill="#fff" stroke="#3aa8f5" stroke-width="1.3"/>
<circle cx="632.5" cy="1192.45" r="6.6" fill="#fff" stroke="#3aa8f5" stroke-width="1.3"/>
<circle cx="641.5" cy="1211.09" r="6.6" fill="#fff" stroke="#3aa8f5" stroke-width="1.3"/>
<circle cx="650.5" cy="1177.4" r="6.6" fill="#fff" stroke="#3aa8f5" stroke-width="1.3"/>
<circle cx="659.5" cy="1204.87" r="6.6" fill="#fff" stroke="#3aa8f5" stroke-width="1.3"/>
<circle cx="668.5" cy="1215.66" r="6.6" fill="#fff" stroke="#3aa8f5" stroke-width="1.3"/>
<circle cx="677.5" cy="1201.93" r="6.6" fill="#fff" stroke="#3aa8f5" stroke-width="1.3"/>
<circle cx="686.5" cy="1227.43" r="6.6" fill="#fff" stroke="#3aa8f5" stroke-width="1.3"/>
<circle cx="695.5" cy="1215.34" r="6.6" fill="#fff" stroke="#3aa8f5" stroke-width="1.3"/>
<circle cx="704.5" cy="1243.13" r="6.6" fill="#fff" stroke="#3aa8f5" stroke-width="1.3"/>
<circle cx="713.5" cy="1249.34" r="6.6" fill="#fff" stroke="#3aa8f5" stroke-width="1.3"/>
<circle cx="722.5" cy="1267.66" r="6.6" fill="#fff" stroke="#3aa8f5" stroke-width="1.3"/>
<circle cx="731.5" cy="1277.14" r="6.6" fill="#fff" stroke="#3aa8f5" stroke-width="1.3"/>
<circle cx="740.5" cy="1292.18" r="6.6" fill="#fff" stroke="#3aa8f5" stroke-width="1.3"/>
<circle cx="749.5" cy="1304.93" r="6.6" fill="#fff" stroke="#3aa8f5" stroke-width="1.3"/>
<circle cx="758.5" cy="1423.63" r="6.6" fill="#fff" stroke="#3aa8f5" stroke-width="1.3"/>
<circle cx="200.5" cy="1519.7" r="6.6" fill="#fff" stroke="#ff5a14" stroke-width="1.3"/>
<circle cx="200.5" cy="1539.9" r="6.6" fill="#fff" stroke="#3aa8f5" stroke-width="1.3"/>
<line x1="191.5" y1="1128" x2="1405" y2="1128" stroke="#000" stroke-width="1.8"/>
<line x1="191.5" y1="1560.3" x2="1405" y2="1560.3" stroke="#000" stroke-width="1.8"/>
<line x1="191.5" y1="1128" x2="191.5" y2="1560.3" stroke="#000" stroke-width="1.8"/>
<line x1="1405" y1="1128" x2="1405" y2="1487.5" stroke="#000" stroke-width="1.8"/>
<line x1="1405" y1="1495" x2="1405" y2="1560.3" stroke="#000" stroke-width="1.8"/>
<line x1="191.5" y1="1560.3" x2="191.5" y2="1567.3" stroke="#000" stroke-width="1.9"/>
<text x="191.5" y="1597" font-size="30" text-anchor="middle" font-weight="normal" fill="#000">0</text>
<line x1="551.5" y1="1560.3" x2="551.5" y2="1567.3" stroke="#000" stroke-width="1.9"/>
<text x="551.5" y="1597" font-size="30" text-anchor="middle" font-weight="normal" fill="#000">40</text>
<line x1="911.5" y1="1560.3" x2="911.5" y2="1567.3" stroke="#000" stroke-width="1.9"/>
<text x="911.5" y="1597" font-size="30" text-anchor="middle" font-weight="normal" fill="#000">80</text>
<line x1="1271.5" y1="1560.3" x2="1271.5" y2="1567.3" stroke="#000" stroke-width="1.9"/>
<text x="1271.5" y="1597" font-size="30" text-anchor="middle" font-weight="normal" fill="#000">120</text>
<line x1="371.5" y1="1560.3" x2="371.5" y2="1564.3" stroke="#000" stroke-width="1.9"/>
<line x1="731.5" y1="1560.3" x2="731.5" y2="1564.3" stroke="#000" stroke-width="1.9"/>
<line x1="1091.5" y1="1560.3" x2="1091.5" y2="1564.3" stroke="#000" stroke-width="1.9"/>
<line x1="191.5" y1="1560.3" x2="184.5" y2="1560.3" stroke="#000" stroke-width="1.9"/>
<text x="180" y="1569.9" font-size="30" text-anchor="end" font-weight="normal" fill="#000">0</text>
<line x1="191.5" y1="1473.84" x2="184.5" y2="1473.84" stroke="#000" stroke-width="1.9"/>
<text x="180" y="1483.44" font-size="30" text-anchor="end" font-weight="normal" fill="#000">50</text>
<line x1="191.5" y1="1387.38" x2="184.5" y2="1387.38" stroke="#000" stroke-width="1.9"/>
<text x="180" y="1396.98" font-size="30" text-anchor="end" font-weight="normal" fill="#000">100</text>
<line x1="191.5" y1="1300.92" x2="184.5" y2="1300.92" stroke="#000" stroke-width="1.9"/>
<text x="180" y="1310.52" font-size="30" text-anchor="end" font-weight="normal" fill="#000">150</text>
<line x1="191.5" y1="1214.46" x2="184.5" y2="1214.46" stroke="#000" stroke-width="1.9"/>
<text x="180" y="1224.06" font-size="30" text-anchor="end" font-weight="normal" fill="#000">200</text>
<line x1="191.5" y1="1128" x2="184.5" y2="1128" stroke="#000" stroke-width="1.9"/>
<text x="180" y="1137.6" font-size="30" text-anchor="end" font-weight="normal" fill="#000">250</text>
<line x1="191.5" y1="1517.07" x2="187.5" y2="1517.07" stroke="#000" stroke-width="1.9"/>
<line x1="191.5" y1="1430.61" x2="187.5" y2="1430.61" stroke="#000" stroke-width="1.9"/>
<line x1="191.5" y1="1344.15" x2="187.5" y2="1344.15" stroke="#000" stroke-width="1.9"/>
<line x1="191.5" y1="1257.69" x2="187.5" y2="1257.69" stroke="#000" stroke-width="1.9"/>
<line x1="191.5" y1="1171.23" x2="187.5" y2="1171.23" stroke="#000" stroke-width="1.9"/>
<line x1="1405" y1="1160.4" x2="1412" y2="1160.4" stroke="#000" stroke-width="1.6"/>
<text x="1418.6" y="1170" font-size="30.2" text-anchor="start" font-weight="normal" fill="#000">100</text>
<line x1="1405" y1="1225.8" x2="1412" y2="1225.8" stroke="#000" stroke-width="1.6"/>
<text x="1418.6" y="1235.4" font-size="30.2" text-anchor="start" font-weight="normal" fill="#000">98</text>
<line x1="1405" y1="1291.2" x2="1412" y2="1291.2" stroke="#000" stroke-width="1.6"/>
<text x="1418.6" y="1300.8" font-size="30.2" text-anchor="start" font-weight="normal" fill="#000">96</text>
<line x1="1405" y1="1356.6" x2="1412" y2="1356.6" stroke="#000" stroke-width="1.6"/>
<text x="1418.6" y="1366.2" font-size="30.2" text-anchor="start" font-weight="normal" fill="#000">94</text>
<line x1="1405" y1="1422" x2="1412" y2="1422" stroke="#000" stroke-width="1.6"/>
<text x="1418.6" y="1431.6" font-size="30.2" text-anchor="start" font-weight="normal" fill="#000">92</text>
<line x1="1405" y1="1487.4" x2="1412" y2="1487.4" stroke="#000" stroke-width="1.6"/>
<text x="1418.6" y="1497" font-size="30.2" text-anchor="start" font-weight="normal" fill="#000">90</text>
<line x1="1405" y1="1193.1" x2="1409" y2="1193.1" stroke="#000" stroke-width="1.6"/>
<line x1="1405" y1="1258.5" x2="1409" y2="1258.5" stroke="#000" stroke-width="1.6"/>
<line x1="1405" y1="1323.9" x2="1409" y2="1323.9" stroke="#000" stroke-width="1.6"/>
<line x1="1405" y1="1389.3" x2="1409" y2="1389.3" stroke="#000" stroke-width="1.6"/>
<line x1="1405" y1="1454.7" x2="1409" y2="1454.7" stroke="#000" stroke-width="1.6"/>
<line x1="1405" y1="1537.9" x2="1412" y2="1537.9" stroke="#000" stroke-width="1.6"/>
<text x="1418.6" y="1547.5" font-size="30.2" text-anchor="start" font-weight="normal" fill="#000">84</text>
<line x1="1405" y1="1516.2" x2="1409" y2="1516.2" stroke="#000" stroke-width="1.6"/>
<line x1="1405" y1="1559.3" x2="1409" y2="1559.3" stroke="#000" stroke-width="1.6"/>
<polygon points="1397.2,1491.3 1412,1483.8 1412,1491.1 1397.2,1498.5" fill="#fff"/>
<line x1="1397.2" y1="1491.3" x2="1412" y2="1483.8" stroke="#000" stroke-width="1.6"/>
<line x1="1397.2" y1="1498.5" x2="1412" y2="1491.1" stroke="#000" stroke-width="1.6"/>
<text x="808.8" y="1634.2" font-size="36.5" text-anchor="middle" font-weight="normal" fill="#000">Cycle number</text>
<text x="111.5" y="1323" font-size="29.3" text-anchor="middle" font-weight="normal" fill="#000" transform="rotate(-90 111.5 1323)">Discharge capacity (mAh g<tspan dy="-13.5" font-size="20.5">&#8722;1</tspan><tspan dy="13.5" dx="2">)</tspan></text>
<text x="1472.5" y="1338.2" font-size="32" text-anchor="middle" font-weight="normal" fill="#000" transform="rotate(90 1472.5 1338.2)">C.E.(%)</text>
<text x="1293.4" y="1261.4" font-size="31.5" text-anchor="start" font-weight="normal" fill="#000">80.3%</text>
<text x="218.9" y="1449.7" font-size="29.6" text-anchor="start" font-weight="normal" fill="#000">3.0-4.5 V</text>
<text x="217.8" y="1490.6" font-size="29.7" text-anchor="start" font-weight="normal" fill="#000">Mass loading: 21.5 mg cm<tspan dy="-12.5" font-size="20">&#8722;2</tspan></text>
<text x="218.9" y="1531.3" font-size="29.6" style="white-space:pre">12 &#956;L   0.1 C charge, 0.3 C discharge (1C=200 mAh g<tspan dy="-14" font-size="20.5">&#8722;1</tspan><tspan dy="14" dx="1.5">)</tspan></text>
<line x1="458.1" y1="1273.6" x2="458.1" y2="1314.7" stroke="#000" stroke-width="1.8"/>
<line x1="458.1" y1="1314.7" x2="300" y2="1314.7" stroke="#000" stroke-width="1.8"/>
<polygon points="289.1,1314.7 303.1,1311.7 303.1,1317.7" fill="#000"/>
<line x1="1024.8" y1="1197.3" x2="1024.8" y2="1219" stroke="#000" stroke-width="1.8"/>
<line x1="1024.8" y1="1218" x2="1268" y2="1218" stroke="#000" stroke-width="1.8"/>
<polygon points="1279.5,1218 1265.5,1221 1265.5,1215" fill="#000"/>
<line x1="1245.1" y1="1478.2" x2="1259" y2="1478.2" stroke="#3aa8f5" stroke-width="1" opacity="0.75"/>
<line x1="1278.7" y1="1478.2" x2="1293.3" y2="1478.2" stroke="#3aa8f5" stroke-width="1" opacity="0.75"/>
<circle cx="1267.7" cy="1477.4" r="7.3" fill="url(#gB)"/>
<text x="1303.8" y="1486.2" font-size="40.5" text-anchor="start" font-weight="normal" fill="#000">BE</text>
<line x1="1245.1" y1="1527.2" x2="1259" y2="1527.2" stroke="#ff5a14" stroke-width="1" opacity="0.75"/>
<line x1="1278.7" y1="1527.2" x2="1293.3" y2="1527.2" stroke="#ff5a14" stroke-width="1" opacity="0.75"/>
<circle cx="1267.7" cy="1526.4" r="7.3" fill="url(#gO)"/>
<text x="1305" y="1534.4" font-size="40.5" text-anchor="start" font-weight="normal" fill="#000">AFE</text>
<text x="20.6" y="1716.2" font-size="63" text-anchor="start" font-weight="bold" fill="#000">e</text>
<text x="751" y="1708.2" font-size="63" text-anchor="start" font-weight="bold" fill="#000">f</text>
<path d="M203.3,2081 C203.33,2060.83 203.42,1991.33 203.5,1960 C203.58,1928.67 202.82,1904.18 203.8,1893 C204.78,1881.82 204.57,1892.3 209.4,1892.9 C214.23,1893.5 225.02,1896.13 232.8,1896.6 C240.58,1897.07 247.53,1896.17 256.1,1895.7 C264.67,1895.23 274.83,1894.67 284.2,1893.8 C293.57,1892.93 304.67,1891.38 312.3,1890.5 C319.93,1889.62 320.37,1889.53 330,1888.5 C339.63,1887.47 356.73,1886.23 370.1,1884.3 C383.47,1882.37 396.83,1879.13 410.2,1876.9 C423.57,1874.67 436.93,1873.68 450.3,1870.9 C463.67,1868.12 478.78,1863.92 490.4,1860.2 C502.02,1856.48 510.38,1852.57 520,1848.6 C529.62,1844.63 538.75,1840.15 548.1,1836.4 C557.45,1832.65 566.75,1829.68 576.1,1826.1 C585.45,1822.52 596.4,1818.02 604.2,1814.9 C612,1811.78 617.43,1809.28 622.9,1807.4 C628.37,1805.52 630.82,1804.85 637,1803.6 C643.18,1802.35 653.62,1801 660,1799.9 C666.38,1798.8 669.18,1799.27 675.3,1797 C681.42,1794.73 690.28,1790.93 696.7,1786.3 C703.12,1781.67 708.63,1774.9 713.8,1769.2 C718.97,1763.5 725.38,1754.95 727.7,1752.1" fill="none" stroke="#000000" stroke-width="3.5" stroke-linejoin="round" stroke-linecap="round"/>
<path d="M202.3,1776.8 C203.48,1778.68 206.67,1784.35 209.4,1788.1 C212.13,1791.85 214.8,1795.72 218.7,1799.3 C222.6,1802.88 228.12,1807.1 232.8,1809.6 C237.48,1812.1 241.35,1812.73 246.8,1814.3 C252.25,1815.87 259.27,1817.13 265.5,1819 C271.73,1820.87 277.97,1823.17 284.2,1825.5 C290.43,1827.83 296.65,1830.5 302.9,1833 C309.15,1835.5 315.52,1838.08 321.7,1840.5 C327.88,1842.92 331.93,1844.22 340,1847.5 C348.07,1850.78 358.4,1855.4 370.1,1860.2 C381.8,1865 396.83,1871.62 410.2,1876.3 C423.57,1880.98 436.93,1884.75 450.3,1888.3 C463.67,1891.85 477.12,1894.7 490.4,1897.6 C503.68,1900.5 517.02,1902.85 530,1905.7 C542.98,1908.55 558.35,1911.78 568.3,1914.7 C578.25,1917.62 583.28,1920 589.7,1923.2 C596.12,1926.4 601.45,1929.62 606.8,1933.9 C612.15,1938.18 617.52,1943.55 621.8,1948.9 C626.08,1954.25 629.65,1959.58 632.5,1966 C635.35,1972.42 637.12,1978.32 638.9,1987.4 C640.68,1996.48 642.48,2014.98 643.2,2020.5" fill="none" stroke="#000000" stroke-width="3.5" stroke-linejoin="round" stroke-linecap="round"/>
<path d="M202.3,1903.2 C202.85,1902.58 202.87,1900.43 205.6,1899.5 C208.33,1898.57 210.28,1899.48 218.7,1897.6 C227.12,1895.72 243.62,1891.25 256.1,1888.2 C268.58,1885.15 281.28,1881.5 293.6,1879.3 C305.92,1877.1 317.25,1877.73 330,1875 C342.75,1872.27 356.73,1867.03 370.1,1862.9 C383.47,1858.77 396.83,1854.55 410.2,1850.2 C423.57,1845.85 436.93,1841.6 450.3,1836.8 C463.67,1832 478.78,1825.28 490.4,1821.4 C502.02,1817.52 511.95,1815.83 520,1813.5 C528.05,1811.17 532.47,1809.2 538.7,1807.4 C544.93,1805.6 551.17,1804.42 557.4,1802.7 C563.63,1800.98 569.85,1799.28 576.1,1797.1 C582.35,1794.92 589.43,1792.1 594.9,1789.6 C600.37,1787.1 604.53,1785.22 608.9,1782.1 C613.27,1778.98 617.67,1774.48 621.1,1770.9 C624.53,1767.32 627.32,1763.72 629.5,1760.6 C631.68,1757.48 633.42,1753.6 634.2,1752.2" fill="none" stroke="#3ba3f2" stroke-width="3.5" stroke-linejoin="round" stroke-linecap="round"/>
<path d="M202.3,1901 C202.85,1900.42 202.87,1898.38 205.6,1897.5 C208.33,1896.62 210.28,1897.57 218.7,1895.7 C227.12,1893.83 243.62,1889.42 256.1,1886.3 C268.58,1883.18 281.28,1879.47 293.6,1877 C305.92,1874.53 317.25,1874.3 330,1871.5 C342.75,1868.7 356.73,1864.32 370.1,1860.2 C383.47,1856.08 396.83,1851.25 410.2,1846.8 C423.57,1842.35 436.93,1838.28 450.3,1833.5 C463.67,1828.72 478.78,1822.27 490.4,1818.1 C502.02,1813.93 511.95,1810.92 520,1808.5 C528.05,1806.08 532.47,1805.18 538.7,1803.6 C544.93,1802.02 551.17,1800.72 557.4,1799 C563.63,1797.28 569.85,1795.65 576.1,1793.3 C582.35,1790.95 589.43,1788.17 594.9,1784.9 C600.37,1781.63 605,1777.43 608.9,1773.7 C612.8,1769.97 615.65,1766.08 618.3,1762.5 C620.95,1758.92 623.72,1753.92 624.8,1752.2" fill="none" stroke="#0b6ea6" stroke-width="3.5" stroke-linejoin="round" stroke-linecap="round"/>
<path d="M202.3,1898.5 C202.85,1897.88 202.87,1895.73 205.6,1894.8 C208.33,1893.87 213.4,1894 218.7,1892.9 C224,1891.8 231.17,1889.77 237.4,1888.2 C243.63,1886.63 249.85,1885.07 256.1,1883.5 C262.35,1881.93 268.65,1880.35 274.9,1878.8 C281.15,1877.25 287.37,1875.6 293.6,1874.2 C299.83,1872.8 306.23,1871.6 312.3,1870.4 C318.37,1869.2 320.37,1869.58 330,1867 C339.63,1864.42 356.73,1859.03 370.1,1854.9 C383.47,1850.77 396.83,1846.55 410.2,1842.2 C423.57,1837.85 436.93,1833.37 450.3,1828.8 C463.67,1824.23 478.78,1819 490.4,1814.8 C502.02,1810.6 511.95,1806.23 520,1803.6 C528.05,1800.97 532.47,1800.55 538.7,1799 C544.93,1797.45 551.17,1796.33 557.4,1794.3 C563.63,1792.27 570.63,1789.3 576.1,1786.8 C581.57,1784.3 586.3,1781.8 590.2,1779.3 C594.1,1776.8 596.85,1774.45 599.5,1771.8 C602.15,1769.15 604.22,1766.05 606.1,1763.4 C607.98,1760.75 609.55,1757.82 610.8,1755.9 C612.05,1753.98 613.13,1752.57 613.6,1751.9" fill="none" stroke="#22dcdc" stroke-width="3.5" stroke-linejoin="round" stroke-linecap="round"/>
<path d="M202.8,1892.9 C203.12,1891.03 203.6,1884.2 204.7,1881.7 C205.8,1879.2 205.5,1879.62 209.4,1877.9 C213.3,1876.18 220.32,1873.58 228.1,1871.4 C235.88,1869.22 246.75,1867.15 256.1,1864.8 C265.45,1862.45 274.83,1859.95 284.2,1857.3 C293.57,1854.65 304.67,1851.32 312.3,1848.9 C319.93,1846.48 320.37,1846.7 330,1842.8 C339.63,1838.9 356.73,1831.13 370.1,1825.5 C383.47,1819.87 399.22,1813.35 410.2,1809 C421.18,1804.65 429.02,1802.08 436,1799.4 C442.98,1796.72 446.75,1795.05 452.1,1792.9 C457.45,1790.75 462.75,1788.63 468.1,1786.5 C473.45,1784.37 479.52,1782.23 484.2,1780.1 C488.88,1777.97 492.2,1775.97 496.2,1773.7 C500.2,1771.43 504.85,1768.77 508.2,1766.5 C511.55,1764.23 513.35,1762.58 516.3,1760.1 C519.25,1757.62 524.3,1753.02 525.9,1751.6" fill="none" stroke="#ff5010" stroke-width="3.5" stroke-linejoin="round" stroke-linecap="round"/>
<path d="M202.3,1782 C203.48,1783.95 206.67,1790.03 209.4,1793.7 C212.13,1797.37 214.03,1800.42 218.7,1804 C223.37,1807.58 231.17,1812.4 237.4,1815.2 C243.63,1818 249.85,1818.62 256.1,1820.8 C262.35,1822.98 268.65,1825.65 274.9,1828.3 C281.15,1830.95 287.37,1834.05 293.6,1836.7 C299.83,1839.35 304.57,1841.4 312.3,1844.2 C320.03,1847 330.37,1849.72 340,1853.5 C349.63,1857.28 358.4,1862 370.1,1866.9 C381.8,1871.8 396.83,1878 410.2,1882.9 C423.57,1887.8 436.93,1892.5 450.3,1896.3 C463.67,1900.1 477.12,1902.8 490.4,1905.7 C503.68,1908.6 518.8,1910.43 530,1913.7 C541.2,1916.97 548.35,1920.15 557.6,1925.3 C566.85,1930.45 577.3,1937.47 585.5,1944.6 C593.7,1951.73 600.75,1959.55 606.8,1968.1 C612.85,1976.65 617.87,1987.17 621.8,1995.9 C625.73,2004.63 628.97,2016.4 630.4,2020.5" fill="none" stroke="#3ba3f2" stroke-width="3.5" stroke-linejoin="round" stroke-linecap="round"/>
<path d="M202.3,1787.1 C203.48,1788.83 206.67,1794.22 209.4,1797.5 C212.13,1800.78 214.03,1803.38 218.7,1806.8 C223.37,1810.22 231.17,1815.03 237.4,1818 C243.63,1820.97 249.85,1822.25 256.1,1824.6 C262.35,1826.95 268.65,1829.45 274.9,1832.1 C281.15,1834.75 287.37,1837.85 293.6,1840.5 C299.83,1843.15 304.57,1845.2 312.3,1848 C320.03,1850.8 330.37,1853.7 340,1857.3 C349.63,1860.9 358.4,1864.88 370.1,1869.6 C381.8,1874.32 396.83,1880.48 410.2,1885.6 C423.57,1890.72 436.93,1896.07 450.3,1900.3 C463.67,1904.53 477.12,1907.43 490.4,1911 C503.68,1914.57 518.8,1917.88 530,1921.7 C541.2,1925.52 549.43,1929.02 557.6,1933.9 C565.77,1938.78 571.87,1943.87 579,1951 C586.13,1958.13 594.33,1968.13 600.4,1976.7 C606.47,1985.27 611.77,1995.1 615.4,2002.4 C619.03,2009.7 621.07,2017.48 622.2,2020.5" fill="none" stroke="#0b6ea6" stroke-width="3.5" stroke-linejoin="round" stroke-linecap="round"/>
<path d="M202.3,1795.6 C203.48,1797.15 206.67,1802.1 209.4,1804.9 C212.13,1807.7 214.03,1809.58 218.7,1812.4 C223.37,1815.22 231.17,1819 237.4,1821.8 C243.63,1824.6 249.85,1826.72 256.1,1829.2 C262.35,1831.68 268.65,1834.2 274.9,1836.7 C281.15,1839.2 287.37,1841.55 293.6,1844.2 C299.83,1846.85 306.23,1849.93 312.3,1852.6 C318.37,1855.27 320.37,1856.25 330,1860.2 C339.63,1864.15 356.73,1870.73 370.1,1876.3 C383.47,1881.87 396.83,1888.93 410.2,1893.6 C423.57,1898.27 436.93,1900.5 450.3,1904.3 C463.67,1908.1 477.12,1911.93 490.4,1916.4 C503.68,1920.87 518.8,1926.4 530,1931.1 C541.2,1935.8 549.43,1939.13 557.6,1944.6 C565.77,1950.07 572.58,1956.42 579,1963.9 C585.42,1971.38 590.57,1980.07 596.1,1989.5 C601.63,1998.93 609.52,2015.33 612.2,2020.5" fill="none" stroke="#22dcdc" stroke-width="3.5" stroke-linejoin="round" stroke-linecap="round"/>
<path d="M202.8,1831.1 C202.95,1832.5 202.6,1837 203.7,1839.5 C204.8,1842 206.12,1844.07 209.4,1846.1 C212.68,1848.13 218.73,1849.98 223.4,1851.7 C228.07,1853.42 231.95,1854.37 237.4,1856.4 C242.85,1858.43 249.85,1861.25 256.1,1863.9 C262.35,1866.55 268.65,1869.5 274.9,1872.3 C281.15,1875.1 287.37,1877.73 293.6,1880.7 C299.83,1883.67 306.23,1887.28 312.3,1890.1 C318.37,1892.92 322.88,1894.28 330,1897.6 C337.12,1900.92 346.67,1905.92 355,1910 C363.33,1914.08 372.48,1918.75 380,1922.1 C387.52,1925.45 393.42,1927.1 400.1,1930.1 C406.78,1933.1 413.42,1936.77 420.1,1940.1 C426.78,1943.43 433.52,1946.58 440.2,1950.1 C446.88,1953.62 453.52,1956.68 460.2,1961.2 C466.88,1965.72 474.45,1972.03 480.3,1977.2 C486.15,1982.37 491.13,1987.52 495.3,1992.2 C499.47,1996.88 502.12,2000.62 505.3,2005.3 C508.48,2009.98 512.88,2017.8 514.4,2020.3" fill="none" stroke="#ff5010" stroke-width="3.5" stroke-linejoin="round" stroke-linecap="round"/>
<rect x="202.5" y="1734" width="536" height="374.4" fill="none" stroke="#000" stroke-width="1.9"/>
<line x1="202.5" y1="2108.4" x2="202.5" y2="2115.4" stroke="#000" stroke-width="1.9"/>
<text x="202.5" y="2144.4" font-size="28.7" text-anchor="middle" font-weight="normal" fill="#000">0</text>
<line x1="314.17" y1="2108.4" x2="314.17" y2="2115.4" stroke="#000" stroke-width="1.9"/>
<text x="314.17" y="2144.4" font-size="28.7" text-anchor="middle" font-weight="normal" fill="#000">50</text>
<line x1="425.83" y1="2108.4" x2="425.83" y2="2115.4" stroke="#000" stroke-width="1.9"/>
<text x="425.83" y="2144.4" font-size="28.7" text-anchor="middle" font-weight="normal" fill="#000">100</text>
<line x1="537.5" y1="2108.4" x2="537.5" y2="2115.4" stroke="#000" stroke-width="1.9"/>
<text x="537.5" y="2144.4" font-size="28.7" text-anchor="middle" font-weight="normal" fill="#000">150</text>
<line x1="649.17" y1="2108.4" x2="649.17" y2="2115.4" stroke="#000" stroke-width="1.9"/>
<text x="649.17" y="2144.4" font-size="28.7" text-anchor="middle" font-weight="normal" fill="#000">200</text>
<line x1="258.33" y1="2108.4" x2="258.33" y2="2111.9" stroke="#000" stroke-width="1.9"/>
<line x1="370" y1="2108.4" x2="370" y2="2111.9" stroke="#000" stroke-width="1.9"/>
<line x1="481.67" y1="2108.4" x2="481.67" y2="2111.9" stroke="#000" stroke-width="1.9"/>
<line x1="593.33" y1="2108.4" x2="593.33" y2="2111.9" stroke="#000" stroke-width="1.9"/>
<line x1="705" y1="2108.4" x2="705" y2="2111.9" stroke="#000" stroke-width="1.9"/>
<line x1="202.5" y1="2108.4" x2="195.5" y2="2108.4" stroke="#000" stroke-width="1.9"/>
<text x="190.1" y="2116.96" font-size="28.7" text-anchor="end" font-weight="normal" fill="#000">2.5</text>
<line x1="202.5" y1="2019.2" x2="195.5" y2="2019.2" stroke="#000" stroke-width="1.9"/>
<text x="190.1" y="2027.76" font-size="28.7" text-anchor="end" font-weight="normal" fill="#000">3.0</text>
<line x1="202.5" y1="1930" x2="195.5" y2="1930" stroke="#000" stroke-width="1.9"/>
<text x="190.1" y="1938.56" font-size="28.7" text-anchor="end" font-weight="normal" fill="#000">3.5</text>
<line x1="202.5" y1="1840.8" x2="195.5" y2="1840.8" stroke="#000" stroke-width="1.9"/>
<text x="190.1" y="1849.36" font-size="28.7" text-anchor="end" font-weight="normal" fill="#000">4.0</text>
<line x1="202.5" y1="1751.6" x2="195.5" y2="1751.6" stroke="#000" stroke-width="1.9"/>
<text x="190.1" y="1760.16" font-size="28.7" text-anchor="end" font-weight="normal" fill="#000">4.5</text>
<line x1="202.5" y1="2063.8" x2="199" y2="2063.8" stroke="#000" stroke-width="1.9"/>
<line x1="202.5" y1="1974.6" x2="199" y2="1974.6" stroke="#000" stroke-width="1.9"/>
<line x1="202.5" y1="1885.4" x2="199" y2="1885.4" stroke="#000" stroke-width="1.9"/>
<line x1="202.5" y1="1796.2" x2="199" y2="1796.2" stroke="#000" stroke-width="1.9"/>
<text x="138.3" y="1905.5" font-size="30.5" text-anchor="middle" font-weight="normal" fill="#000" transform="rotate(-90 138.3 1905.5)">Voltage(V versus Li<tspan dy="-18" font-size="23">+</tspan><tspan dy="18">/Li)</tspan></text>
<text x="471.5" y="2184.2" font-size="29.5" text-anchor="middle" font-weight="normal" fill="#000">Specific capacity (mAh g<tspan dy="-14.5" font-size="20.5">&#8722;1</tspan><tspan dy="14.5" dx="2.5">)</tspan></text>
<text x="244.4" y="1774.7" font-size="31.3" text-anchor="start" font-weight="normal" fill="#000">BE</text>
<line x1="223.1" y1="1956.7" x2="279.1" y2="1956.7" stroke="#000000" stroke-width="3.6" stroke-linecap="round"/>
<text x="287" y="1965.2" font-size="26.5" style="white-space:pre">1 st</text>
<line x1="223.1" y1="1988.9" x2="279.1" y2="1988.9" stroke="#3ba3f2" stroke-width="3.6" stroke-linecap="round"/>
<text x="287" y="1997.4" font-size="26.5" style="white-space:pre">5 th</text>
<line x1="223.1" y1="2020.8" x2="279.1" y2="2020.8" stroke="#0b6ea6" stroke-width="3.6" stroke-linecap="round"/>
<text x="287" y="2029.3" font-size="26.5" style="white-space:pre">10 th</text>
<line x1="223.1" y1="2052.7" x2="279.1" y2="2052.7" stroke="#22dcdc" stroke-width="3.6" stroke-linecap="round"/>
<text x="287" y="2061.2" font-size="26.5" style="white-space:pre">20 th</text>
<line x1="223.1" y1="2084.5" x2="279.1" y2="2084.5" stroke="#ff5010" stroke-width="3.6" stroke-linecap="round"/>
<text x="287" y="2093" font-size="26.5" style="white-space:pre">60 th</text>
<text x="370.1" y="2091.6" font-size="27.45" text-anchor="start" font-weight="normal" fill="#000">0.1 C charge, 0.3 C discharge</text>
<path d="M878.8,1880.4 C879,1882 878.12,1887.65 880,1890 C881.88,1892.35 881.73,1893.92 890.1,1894.5 C898.47,1895.08 916.83,1894.18 930.2,1893.5 C943.57,1892.82 956.93,1891.58 970.3,1890.4 C983.67,1889.22 997.03,1888.07 1010.4,1886.4 C1023.77,1884.73 1037.13,1882.4 1050.5,1880.4 C1063.87,1878.4 1077.23,1876.8 1090.6,1874.4 C1103.97,1872 1115.78,1870.02 1130.7,1866 C1145.62,1861.98 1165.18,1855.25 1180.1,1850.3 C1195.02,1845.35 1206.83,1840.97 1220.2,1836.3 C1233.57,1831.63 1248.6,1827.15 1260.3,1822.3 C1272,1817.45 1282.05,1810.72 1290.4,1807.2 C1298.75,1803.68 1303.72,1802.87 1310.4,1801.2 C1317.08,1799.53 1323.82,1798.87 1330.5,1797.2 C1337.18,1795.53 1344.48,1794.03 1350.5,1791.2 C1356.52,1788.37 1361.58,1784.38 1366.6,1780.2 C1371.62,1776.02 1376.25,1771.45 1380.6,1766.1 C1384.95,1760.75 1390.68,1751.1 1392.7,1748.1" fill="none" stroke="#000000" stroke-width="3.5" stroke-linejoin="round" stroke-linecap="round"/>
<path d="M878.8,1773.1 C880.68,1775.95 884.88,1785.02 890.1,1790.2 C895.32,1795.38 900.08,1799.85 910.1,1804.2 C920.12,1808.55 936.83,1811.62 950.2,1816.3 C963.57,1820.98 976.93,1826.97 990.3,1832.3 C1003.67,1837.63 1017.03,1843.28 1030.4,1848.3 C1043.77,1853.32 1057.13,1857.72 1070.5,1862.4 C1083.87,1867.08 1099.02,1872.57 1110.6,1876.4 C1122.18,1880.23 1128.42,1882.38 1140,1885.4 C1151.58,1888.42 1166.73,1891.32 1180.1,1894.5 C1193.47,1897.68 1206.83,1900.5 1220.2,1904.5 C1233.57,1908.5 1250.27,1914.5 1260.3,1918.5 C1270.33,1922.5 1274.38,1924.82 1280.4,1928.5 C1286.42,1932.18 1292.07,1935.25 1296.4,1940.6 C1300.73,1945.95 1303.9,1953.25 1306.4,1960.6 C1308.9,1967.95 1309.98,1975.5 1311.4,1984.7 C1312.82,1993.9 1314.32,2010.62 1314.9,2015.8" fill="none" stroke="#000000" stroke-width="3.5" stroke-linejoin="round" stroke-linecap="round"/>
<path d="M878.8,1886.4 C880.68,1885.9 881.53,1885.4 890.1,1883.4 C898.67,1881.4 916.83,1877.23 930.2,1874.4 C943.57,1871.57 956.93,1869.4 970.3,1866.4 C983.67,1863.4 997.03,1860.08 1010.4,1856.4 C1023.77,1852.72 1037.13,1848.65 1050.5,1844.3 C1063.87,1839.95 1077.23,1834.85 1090.6,1830.3 C1103.97,1825.75 1115.78,1822.18 1130.7,1817 C1145.62,1811.82 1165.18,1804.17 1180.1,1799.2 C1195.02,1794.23 1208.5,1791.05 1220.2,1787.2 C1231.9,1783.35 1242.95,1779.62 1250.3,1776.1 C1257.65,1772.58 1259.62,1770.77 1264.3,1766.1 C1268.98,1761.43 1276.05,1751.1 1278.4,1748.1" fill="none" stroke="#ff5010" stroke-width="3.5" stroke-linejoin="round" stroke-linecap="round"/>
<path d="M878.8,1892.4 C880.67,1891.83 881.43,1890.67 890,1889 C898.57,1887.33 916.82,1884.83 930.2,1882.4 C943.58,1879.97 956.93,1877.07 970.3,1874.4 C983.67,1871.73 997.03,1869.75 1010.4,1866.4 C1023.77,1863.05 1037.13,1858.32 1050.5,1854.3 C1063.87,1850.28 1077.23,1846.47 1090.6,1842.3 C1103.97,1838.13 1115.78,1834.98 1130.7,1829.3 C1145.62,1823.62 1165.18,1813.55 1180.1,1808.2 C1195.02,1802.85 1206.83,1800.87 1220.2,1797.2 C1233.57,1793.53 1250.27,1789.72 1260.3,1786.2 C1270.33,1782.68 1274.05,1782.45 1280.4,1776.1 C1286.75,1769.75 1295.4,1752.77 1298.4,1748.1" fill="none" stroke="#22dcdc" stroke-width="3.5" stroke-linejoin="round" stroke-linecap="round"/>
<path d="M878.8,1896 C880.68,1895.75 881.53,1896.17 890.1,1894.5 C898.67,1892.83 916.83,1888.68 930.2,1886 C943.57,1883.32 956.93,1881.15 970.3,1878.4 C983.67,1875.65 997.03,1872.83 1010.4,1869.5 C1023.77,1866.17 1037.13,1862.32 1050.5,1858.4 C1063.87,1854.48 1077.23,1850.23 1090.6,1846 C1103.97,1841.77 1115.78,1838.58 1130.7,1833 C1145.62,1827.42 1165.18,1817.8 1180.1,1812.5 C1195.02,1807.2 1206.83,1804.95 1220.2,1801.2 C1233.57,1797.45 1249.6,1794.18 1260.3,1790 C1271,1785.82 1276.72,1783.08 1284.4,1776.1 C1292.08,1769.12 1302.73,1752.77 1306.4,1748.1" fill="none" stroke="#0b6ea6" stroke-width="3.5" stroke-linejoin="round" stroke-linecap="round"/>
<path d="M878.8,1900.5 C880.68,1899.92 881.53,1898.92 890.1,1897 C898.67,1895.08 916.83,1891.6 930.2,1889 C943.57,1886.4 956.93,1884.32 970.3,1881.4 C983.67,1878.48 997.03,1875 1010.4,1871.5 C1023.77,1868 1037.13,1864.32 1050.5,1860.4 C1063.87,1856.48 1077.23,1852.15 1090.6,1848 C1103.97,1843.85 1115.78,1841 1130.7,1835.5 C1145.62,1830 1165.18,1820.22 1180.1,1815 C1195.02,1809.78 1206.83,1807.83 1220.2,1804.2 C1233.57,1800.57 1248.93,1797.53 1260.3,1793.2 C1271.67,1788.87 1279.72,1785.72 1288.4,1778.2 C1297.08,1770.68 1308.4,1753.12 1312.4,1748.1" fill="none" stroke="#3ba3f2" stroke-width="3.5" stroke-linejoin="round" stroke-linecap="round"/>
<path d="M878.8,1778.2 C880.67,1781 884.78,1790 890,1795 C895.22,1800 900.07,1803.32 910.1,1808.2 C920.13,1813.08 936.83,1818.95 950.2,1824.3 C963.57,1829.65 976.93,1834.95 990.3,1840.3 C1003.67,1845.65 1017.03,1851.05 1030.4,1856.4 C1043.77,1861.75 1057.13,1867.4 1070.5,1872.4 C1083.87,1877.4 1099.02,1883.07 1110.6,1886.4 C1122.18,1889.73 1128.42,1889.72 1140,1892.4 C1151.58,1895.08 1166.73,1898.65 1180.1,1902.5 C1193.47,1906.35 1208.5,1911.17 1220.2,1915.5 C1231.9,1919.83 1240.93,1923.65 1250.3,1928.5 C1259.67,1933.35 1269.05,1938.58 1276.4,1944.6 C1283.75,1950.62 1289.73,1957.92 1294.4,1964.6 C1299.07,1971.28 1301.73,1976.17 1304.4,1984.7 C1307.07,1993.23 1309.4,2010.62 1310.4,2015.8" fill="none" stroke="#3ba3f2" stroke-width="3.5" stroke-linejoin="round" stroke-linecap="round"/>
<path d="M878.8,1782 C880.67,1784.83 884.78,1793.97 890,1799 C895.22,1804.03 900.07,1807.32 910.1,1812.2 C920.13,1817.08 936.83,1822.95 950.2,1828.3 C963.57,1833.65 976.93,1838.95 990.3,1844.3 C1003.67,1849.65 1017.03,1855.28 1030.4,1860.4 C1043.77,1865.52 1057.13,1870.32 1070.5,1875 C1083.87,1879.68 1099.02,1884.75 1110.6,1888.5 C1122.18,1892.25 1128.42,1894 1140,1897.5 C1151.58,1901 1166.73,1905 1180.1,1909.5 C1193.47,1914 1208.5,1919.32 1220.2,1924.5 C1231.9,1929.68 1241.95,1935.25 1250.3,1940.6 C1258.65,1945.95 1264.28,1950.58 1270.3,1956.6 C1276.32,1962.62 1281.38,1969.35 1286.4,1976.7 C1291.42,1984.05 1297.13,1994.18 1300.4,2000.7 C1303.67,2007.22 1305.07,2013.28 1306,2015.8" fill="none" stroke="#0b6ea6" stroke-width="3.5" stroke-linejoin="round" stroke-linecap="round"/>
<path d="M878.8,1794.2 C880.67,1796.5 884.78,1803.98 890,1808 C895.22,1812.02 900.07,1813.92 910.1,1818.3 C920.13,1822.68 936.83,1828.97 950.2,1834.3 C963.57,1839.63 976.93,1844.62 990.3,1850.3 C1003.67,1855.98 1017.03,1862.72 1030.4,1868.4 C1043.77,1874.08 1057.13,1879.38 1070.5,1884.4 C1083.87,1889.42 1099.02,1894.82 1110.6,1898.5 C1122.18,1902.18 1128.42,1903.17 1140,1906.5 C1151.58,1909.83 1166.73,1913.48 1180.1,1918.5 C1193.47,1923.52 1208.5,1930.58 1220.2,1936.6 C1231.9,1942.62 1241.95,1948.58 1250.3,1954.6 C1258.65,1960.62 1264.28,1966.02 1270.3,1972.7 C1276.32,1979.38 1281.82,1987.52 1286.4,1994.7 C1290.98,2001.88 1295.9,2012.28 1297.8,2015.8" fill="none" stroke="#22dcdc" stroke-width="3.5" stroke-linejoin="round" stroke-linecap="round"/>
<path d="M878.8,1812.2 C879.33,1813.88 878.45,1819.28 882,1822.3 C885.55,1825.32 888.73,1826.3 900.1,1830.3 C911.47,1834.3 935.17,1840.95 950.2,1846.3 C965.23,1851.65 976.93,1856.72 990.3,1862.4 C1003.67,1868.08 1017.03,1874.72 1030.4,1880.4 C1043.77,1886.08 1057.13,1891.48 1070.5,1896.5 C1083.87,1901.52 1099.02,1906.17 1110.6,1910.5 C1122.18,1914.83 1128.42,1917.82 1140,1922.5 C1151.58,1927.18 1166.73,1932.25 1180.1,1938.6 C1193.47,1944.95 1208.5,1953.58 1220.2,1960.6 C1231.9,1967.62 1242.28,1974.02 1250.3,1980.7 C1258.32,1987.38 1263.68,1994.85 1268.3,2000.7 C1272.92,2006.55 1276.38,2013.28 1278,2015.8" fill="none" stroke="#ff5010" stroke-width="3.5" stroke-linejoin="round" stroke-linecap="round"/>
<rect x="878.5" y="1729.8" width="536" height="375" fill="none" stroke="#000" stroke-width="1.9"/>
<line x1="878.5" y1="2104.8" x2="878.5" y2="2111.8" stroke="#000" stroke-width="1.9"/>
<text x="878.5" y="2140.9" font-size="28.7" text-anchor="middle" font-weight="normal" fill="#000">0</text>
<line x1="990.17" y1="2104.8" x2="990.17" y2="2111.8" stroke="#000" stroke-width="1.9"/>
<text x="990.17" y="2140.9" font-size="28.7" text-anchor="middle" font-weight="normal" fill="#000">50</text>
<line x1="1101.83" y1="2104.8" x2="1101.83" y2="2111.8" stroke="#000" stroke-width="1.9"/>
<text x="1101.83" y="2140.9" font-size="28.7" text-anchor="middle" font-weight="normal" fill="#000">100</text>
<line x1="1213.5" y1="2104.8" x2="1213.5" y2="2111.8" stroke="#000" stroke-width="1.9"/>
<text x="1213.5" y="2140.9" font-size="28.7" text-anchor="middle" font-weight="normal" fill="#000">150</text>
<line x1="1325.17" y1="2104.8" x2="1325.17" y2="2111.8" stroke="#000" stroke-width="1.9"/>
<text x="1325.17" y="2140.9" font-size="28.7" text-anchor="middle" font-weight="normal" fill="#000">200</text>
<line x1="934.33" y1="2104.8" x2="934.33" y2="2108.3" stroke="#000" stroke-width="1.9"/>
<line x1="1046" y1="2104.8" x2="1046" y2="2108.3" stroke="#000" stroke-width="1.9"/>
<line x1="1157.67" y1="2104.8" x2="1157.67" y2="2108.3" stroke="#000" stroke-width="1.9"/>
<line x1="1269.33" y1="2104.8" x2="1269.33" y2="2108.3" stroke="#000" stroke-width="1.9"/>
<line x1="1381" y1="2104.8" x2="1381" y2="2108.3" stroke="#000" stroke-width="1.9"/>
<line x1="878.5" y1="2104.8" x2="871.5" y2="2104.8" stroke="#000" stroke-width="1.9"/>
<text x="866.5" y="2113.36" font-size="28.7" text-anchor="end" font-weight="normal" fill="#000">2.5</text>
<line x1="878.5" y1="2015.6" x2="871.5" y2="2015.6" stroke="#000" stroke-width="1.9"/>
<text x="866.5" y="2024.16" font-size="28.7" text-anchor="end" font-weight="normal" fill="#000">3.0</text>
<line x1="878.5" y1="1926.4" x2="871.5" y2="1926.4" stroke="#000" stroke-width="1.9"/>
<text x="866.5" y="1934.96" font-size="28.7" text-anchor="end" font-weight="normal" fill="#000">3.5</text>
<line x1="878.5" y1="1837.2" x2="871.5" y2="1837.2" stroke="#000" stroke-width="1.9"/>
<text x="866.5" y="1845.76" font-size="28.7" text-anchor="end" font-weight="normal" fill="#000">4.0</text>
<line x1="878.5" y1="1748" x2="871.5" y2="1748" stroke="#000" stroke-width="1.9"/>
<text x="866.5" y="1756.56" font-size="28.7" text-anchor="end" font-weight="normal" fill="#000">4.5</text>
<line x1="878.5" y1="2060.2" x2="875" y2="2060.2" stroke="#000" stroke-width="1.9"/>
<line x1="878.5" y1="1971" x2="875" y2="1971" stroke="#000" stroke-width="1.9"/>
<line x1="878.5" y1="1881.8" x2="875" y2="1881.8" stroke="#000" stroke-width="1.9"/>
<line x1="878.5" y1="1792.6" x2="875" y2="1792.6" stroke="#000" stroke-width="1.9"/>
<text x="812.5" y="1902" font-size="30.5" text-anchor="middle" font-weight="normal" fill="#000" transform="rotate(-90 812.5 1902)">Voltage (V versus Li<tspan dy="-18" font-size="23">+</tspan><tspan dy="18">/Li)</tspan></text>
<text x="1147.5" y="2179.4" font-size="29.5" text-anchor="middle" font-weight="normal" fill="#000">Specific capacity (mAh g<tspan dy="-14.5" font-size="20.5">&#8722;1</tspan><tspan dy="14.5" dx="2.5">)</tspan></text>
<text x="918.1" y="1771.7" font-size="31.4" text-anchor="start" font-weight="normal" fill="#000">AFE</text>
<line x1="907.7" y1="1945.9" x2="947.7" y2="1945.9" stroke="#000000" stroke-width="3.6" stroke-linecap="round"/>
<text x="955.5" y="1951.9" font-size="26.4" style="white-space:pre">1 st</text>
<line x1="907.7" y1="1978.5" x2="947.7" y2="1978.5" stroke="#3ba3f2" stroke-width="3.6" stroke-linecap="round"/>
<text x="955.5" y="1984.5" font-size="26.4" style="white-space:pre">5 th</text>
<line x1="907.7" y1="2010.8" x2="947.7" y2="2010.8" stroke="#0b6ea6" stroke-width="3.6" stroke-linecap="round"/>
<text x="955.5" y="2016.8" font-size="26.4" style="white-space:pre">10 th</text>
<line x1="907.7" y1="2042.7" x2="947.7" y2="2042.7" stroke="#22dcdc" stroke-width="3.6" stroke-linecap="round"/>
<text x="955.5" y="2048.7" font-size="26.4" style="white-space:pre">20 th</text>
<line x1="907.7" y1="2074.5" x2="947.7" y2="2074.5" stroke="#ff5010" stroke-width="3.6" stroke-linecap="round"/>
<text x="955.5" y="2080.5" font-size="26.4" style="white-space:pre">60 th</text>
<text x="1043.7" y="2085.9" font-size="27.45" text-anchor="start" font-weight="normal" fill="#000">0.1 C charge, 0.3 C discharge</text>
</svg>
</body></html>
